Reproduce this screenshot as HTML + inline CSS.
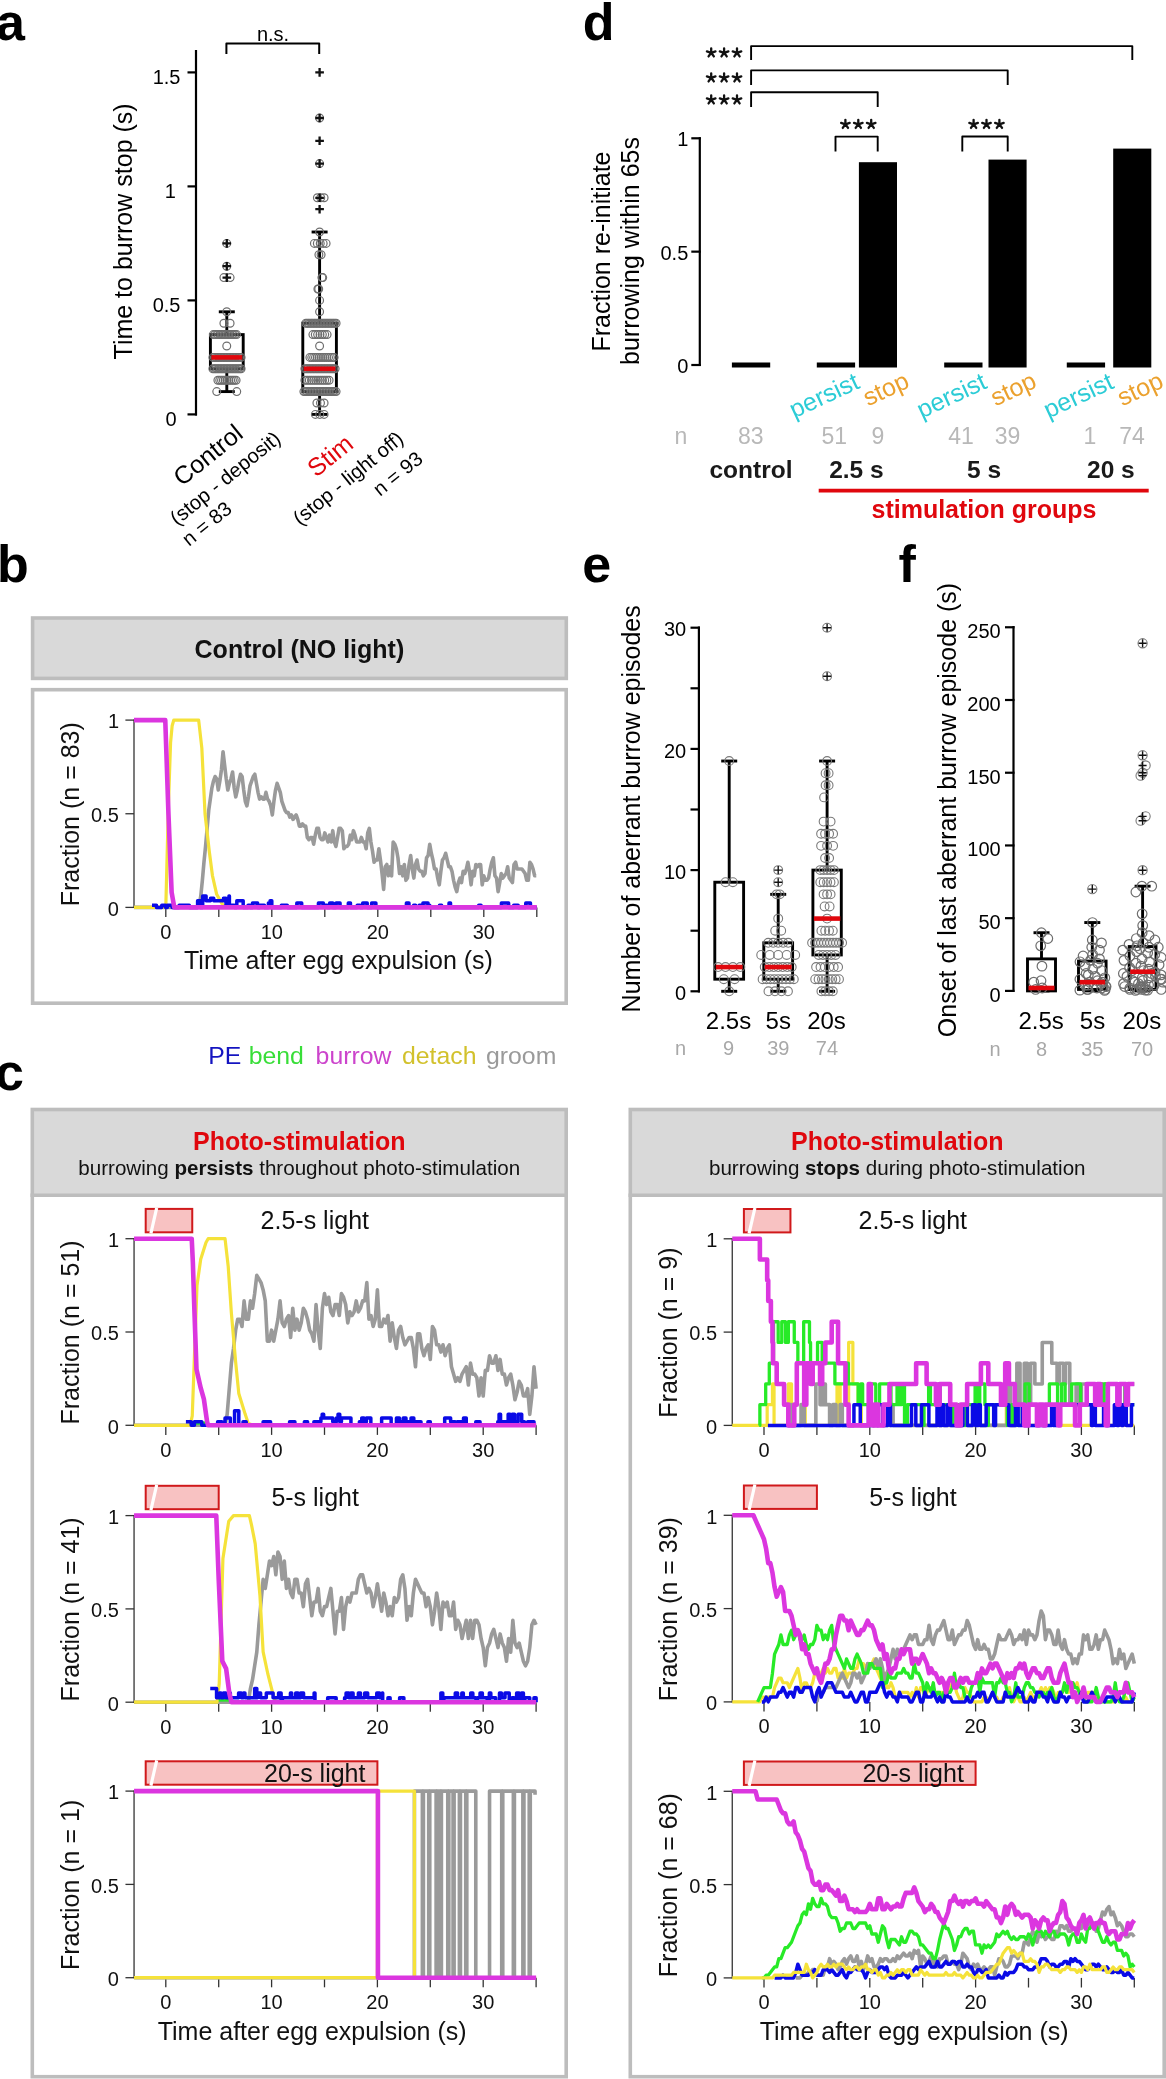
<!DOCTYPE html>
<html><head><meta charset="utf-8"><title>figure</title>
<style>html,body{margin:0;padding:0;background:#fff;}svg{display:block;will-change:transform;}</style>
</head><body>
<svg width="1166" height="2079" viewBox="0 0 1166 2079" font-family='"Liberation Sans", sans-serif'><text x="-4" y="40" font-size="52" font-weight="bold">a</text>
<text x="-3" y="582.4" font-size="52" font-weight="bold">b</text>
<text x="-5" y="1089.5" font-size="52" font-weight="bold">c</text>
<text x="582.7" y="40" font-size="52" font-weight="bold">d</text>
<text x="582.2" y="582.4" font-size="52" font-weight="bold">e</text>
<text x="898.6" y="582.2" font-size="52" font-weight="bold">f</text>
<line x1="196" y1="50" x2="196" y2="415.5" stroke="#000" stroke-width="2.2"/>
<line x1="187.5" y1="72.4" x2="197" y2="72.4" stroke="#000" stroke-width="2.2"/>
<text x="180.5" y="84" font-size="20" text-anchor="end">1.5</text>
<line x1="187.5" y1="186.4" x2="197" y2="186.4" stroke="#000" stroke-width="2.2"/>
<text x="175.8" y="198" font-size="20" text-anchor="end">1</text>
<line x1="187.5" y1="300.4" x2="197" y2="300.4" stroke="#000" stroke-width="2.2"/>
<text x="180.5" y="312" font-size="20" text-anchor="end">0.5</text>
<line x1="187.5" y1="414.4" x2="197" y2="414.4" stroke="#000" stroke-width="2.2"/>
<text x="176.5" y="426" font-size="20" text-anchor="end">0</text>
<text x="132.1" y="231.4" font-size="25" text-anchor="middle" transform="rotate(-90 132.1 231.4)">Time to burrow stop (s)</text>
<text x="273" y="40.8" font-size="20" text-anchor="middle">n.s.</text>
<path d="M226.4 54V43.6H319.2V54" fill="none" stroke="#000" stroke-width="2" stroke-linejoin="round"/>
<line x1="226.8" y1="334.6" x2="226.8" y2="311.8" stroke="#000" stroke-width="2.9"/>
<line x1="226.8" y1="368.8" x2="226.8" y2="391.6" stroke="#000" stroke-width="2.9"/>
<line x1="218.8" y1="311.8" x2="234.8" y2="311.8" stroke="#000" stroke-width="2.9"/>
<line x1="218.8" y1="391.6" x2="234.8" y2="391.6" stroke="#000" stroke-width="2.9"/>
<rect x="210.4" y="334.6" width="32.8" height="34.2" fill="none" stroke="#000" stroke-width="2.9"/>
<line x1="319.6" y1="323.2" x2="319.6" y2="232" stroke="#000" stroke-width="2.9"/>
<line x1="319.6" y1="391.6" x2="319.6" y2="414.4" stroke="#000" stroke-width="2.9"/>
<line x1="311.6" y1="232" x2="327.6" y2="232" stroke="#000" stroke-width="2.9"/>
<line x1="311.6" y1="414.4" x2="327.6" y2="414.4" stroke="#000" stroke-width="2.9"/>
<rect x="302.8" y="323.2" width="33.6" height="68.4" fill="none" stroke="#000" stroke-width="2.9"/>
<circle cx="216.75" cy="391.6" r="3.9" fill="none" stroke="#6e6e6e" stroke-width="1.2"/>
<circle cx="236.75" cy="391.6" r="3.9" fill="none" stroke="#6e6e6e" stroke-width="1.2"/>
<circle cx="217.9" cy="380.2" r="3.9" fill="none" stroke="#6e6e6e" stroke-width="1.2"/>
<circle cx="219.72" cy="380.2" r="3.9" fill="none" stroke="#6e6e6e" stroke-width="1.2"/>
<circle cx="221.54" cy="380.2" r="3.9" fill="none" stroke="#6e6e6e" stroke-width="1.2"/>
<circle cx="223.36" cy="380.2" r="3.9" fill="none" stroke="#6e6e6e" stroke-width="1.2"/>
<circle cx="225.18" cy="380.2" r="3.9" fill="none" stroke="#6e6e6e" stroke-width="1.2"/>
<circle cx="227" cy="380.2" r="3.9" fill="none" stroke="#6e6e6e" stroke-width="1.2"/>
<circle cx="228.82" cy="380.2" r="3.9" fill="none" stroke="#6e6e6e" stroke-width="1.2"/>
<circle cx="230.64" cy="380.2" r="3.9" fill="none" stroke="#6e6e6e" stroke-width="1.2"/>
<circle cx="232.46" cy="380.2" r="3.9" fill="none" stroke="#6e6e6e" stroke-width="1.2"/>
<circle cx="234.28" cy="380.2" r="3.9" fill="none" stroke="#6e6e6e" stroke-width="1.2"/>
<circle cx="236.1" cy="380.2" r="3.9" fill="none" stroke="#6e6e6e" stroke-width="1.2"/>
<circle cx="212.9" cy="368.8" r="3.9" fill="none" stroke="#6e6e6e" stroke-width="1.2"/>
<circle cx="214.38" cy="368.8" r="3.9" fill="none" stroke="#6e6e6e" stroke-width="1.2"/>
<circle cx="215.87" cy="368.8" r="3.9" fill="none" stroke="#6e6e6e" stroke-width="1.2"/>
<circle cx="217.35" cy="368.8" r="3.9" fill="none" stroke="#6e6e6e" stroke-width="1.2"/>
<circle cx="218.84" cy="368.8" r="3.9" fill="none" stroke="#6e6e6e" stroke-width="1.2"/>
<circle cx="220.32" cy="368.8" r="3.9" fill="none" stroke="#6e6e6e" stroke-width="1.2"/>
<circle cx="221.81" cy="368.8" r="3.9" fill="none" stroke="#6e6e6e" stroke-width="1.2"/>
<circle cx="223.29" cy="368.8" r="3.9" fill="none" stroke="#6e6e6e" stroke-width="1.2"/>
<circle cx="224.77" cy="368.8" r="3.9" fill="none" stroke="#6e6e6e" stroke-width="1.2"/>
<circle cx="226.26" cy="368.8" r="3.9" fill="none" stroke="#6e6e6e" stroke-width="1.2"/>
<circle cx="227.74" cy="368.8" r="3.9" fill="none" stroke="#6e6e6e" stroke-width="1.2"/>
<circle cx="229.23" cy="368.8" r="3.9" fill="none" stroke="#6e6e6e" stroke-width="1.2"/>
<circle cx="230.71" cy="368.8" r="3.9" fill="none" stroke="#6e6e6e" stroke-width="1.2"/>
<circle cx="232.19" cy="368.8" r="3.9" fill="none" stroke="#6e6e6e" stroke-width="1.2"/>
<circle cx="233.68" cy="368.8" r="3.9" fill="none" stroke="#6e6e6e" stroke-width="1.2"/>
<circle cx="235.16" cy="368.8" r="3.9" fill="none" stroke="#6e6e6e" stroke-width="1.2"/>
<circle cx="236.65" cy="368.8" r="3.9" fill="none" stroke="#6e6e6e" stroke-width="1.2"/>
<circle cx="238.13" cy="368.8" r="3.9" fill="none" stroke="#6e6e6e" stroke-width="1.2"/>
<circle cx="239.62" cy="368.8" r="3.9" fill="none" stroke="#6e6e6e" stroke-width="1.2"/>
<circle cx="241.1" cy="368.8" r="3.9" fill="none" stroke="#6e6e6e" stroke-width="1.2"/>
<circle cx="212.9" cy="357.4" r="3.9" fill="none" stroke="#6e6e6e" stroke-width="1.2"/>
<circle cx="214.38" cy="357.4" r="3.9" fill="none" stroke="#6e6e6e" stroke-width="1.2"/>
<circle cx="215.87" cy="357.4" r="3.9" fill="none" stroke="#6e6e6e" stroke-width="1.2"/>
<circle cx="217.35" cy="357.4" r="3.9" fill="none" stroke="#6e6e6e" stroke-width="1.2"/>
<circle cx="218.84" cy="357.4" r="3.9" fill="none" stroke="#6e6e6e" stroke-width="1.2"/>
<circle cx="220.32" cy="357.4" r="3.9" fill="none" stroke="#6e6e6e" stroke-width="1.2"/>
<circle cx="221.81" cy="357.4" r="3.9" fill="none" stroke="#6e6e6e" stroke-width="1.2"/>
<circle cx="223.29" cy="357.4" r="3.9" fill="none" stroke="#6e6e6e" stroke-width="1.2"/>
<circle cx="224.77" cy="357.4" r="3.9" fill="none" stroke="#6e6e6e" stroke-width="1.2"/>
<circle cx="226.26" cy="357.4" r="3.9" fill="none" stroke="#6e6e6e" stroke-width="1.2"/>
<circle cx="227.74" cy="357.4" r="3.9" fill="none" stroke="#6e6e6e" stroke-width="1.2"/>
<circle cx="229.23" cy="357.4" r="3.9" fill="none" stroke="#6e6e6e" stroke-width="1.2"/>
<circle cx="230.71" cy="357.4" r="3.9" fill="none" stroke="#6e6e6e" stroke-width="1.2"/>
<circle cx="232.19" cy="357.4" r="3.9" fill="none" stroke="#6e6e6e" stroke-width="1.2"/>
<circle cx="233.68" cy="357.4" r="3.9" fill="none" stroke="#6e6e6e" stroke-width="1.2"/>
<circle cx="235.16" cy="357.4" r="3.9" fill="none" stroke="#6e6e6e" stroke-width="1.2"/>
<circle cx="236.65" cy="357.4" r="3.9" fill="none" stroke="#6e6e6e" stroke-width="1.2"/>
<circle cx="238.13" cy="357.4" r="3.9" fill="none" stroke="#6e6e6e" stroke-width="1.2"/>
<circle cx="239.62" cy="357.4" r="3.9" fill="none" stroke="#6e6e6e" stroke-width="1.2"/>
<circle cx="241.1" cy="357.4" r="3.9" fill="none" stroke="#6e6e6e" stroke-width="1.2"/>
<circle cx="226.75" cy="346" r="3.9" fill="none" stroke="#6e6e6e" stroke-width="1.2"/>
<circle cx="213.4" cy="334.6" r="3.9" fill="none" stroke="#6e6e6e" stroke-width="1.2"/>
<circle cx="214.95" cy="334.6" r="3.9" fill="none" stroke="#6e6e6e" stroke-width="1.2"/>
<circle cx="216.49" cy="334.6" r="3.9" fill="none" stroke="#6e6e6e" stroke-width="1.2"/>
<circle cx="218.04" cy="334.6" r="3.9" fill="none" stroke="#6e6e6e" stroke-width="1.2"/>
<circle cx="219.59" cy="334.6" r="3.9" fill="none" stroke="#6e6e6e" stroke-width="1.2"/>
<circle cx="221.13" cy="334.6" r="3.9" fill="none" stroke="#6e6e6e" stroke-width="1.2"/>
<circle cx="222.68" cy="334.6" r="3.9" fill="none" stroke="#6e6e6e" stroke-width="1.2"/>
<circle cx="224.23" cy="334.6" r="3.9" fill="none" stroke="#6e6e6e" stroke-width="1.2"/>
<circle cx="225.77" cy="334.6" r="3.9" fill="none" stroke="#6e6e6e" stroke-width="1.2"/>
<circle cx="227.32" cy="334.6" r="3.9" fill="none" stroke="#6e6e6e" stroke-width="1.2"/>
<circle cx="228.87" cy="334.6" r="3.9" fill="none" stroke="#6e6e6e" stroke-width="1.2"/>
<circle cx="230.41" cy="334.6" r="3.9" fill="none" stroke="#6e6e6e" stroke-width="1.2"/>
<circle cx="231.96" cy="334.6" r="3.9" fill="none" stroke="#6e6e6e" stroke-width="1.2"/>
<circle cx="233.51" cy="334.6" r="3.9" fill="none" stroke="#6e6e6e" stroke-width="1.2"/>
<circle cx="235.05" cy="334.6" r="3.9" fill="none" stroke="#6e6e6e" stroke-width="1.2"/>
<circle cx="236.6" cy="334.6" r="3.9" fill="none" stroke="#6e6e6e" stroke-width="1.2"/>
<circle cx="223.9" cy="323.2" r="3.9" fill="none" stroke="#6e6e6e" stroke-width="1.2"/>
<circle cx="230.1" cy="323.2" r="3.9" fill="none" stroke="#6e6e6e" stroke-width="1.2"/>
<circle cx="226.75" cy="311.8" r="3.9" fill="none" stroke="#6e6e6e" stroke-width="1.2"/>
<circle cx="223.9" cy="277.6" r="3.9" fill="none" stroke="#6e6e6e" stroke-width="1.2"/>
<circle cx="230.1" cy="277.6" r="3.9" fill="none" stroke="#6e6e6e" stroke-width="1.2"/>
<circle cx="226.75" cy="266.2" r="3.9" fill="none" stroke="#6e6e6e" stroke-width="1.2"/>
<circle cx="226.75" cy="243.4" r="3.9" fill="none" stroke="#6e6e6e" stroke-width="1.2"/>
<circle cx="315.4" cy="414.4" r="3.9" fill="none" stroke="#6e6e6e" stroke-width="1.2"/>
<circle cx="319.75" cy="414.4" r="3.9" fill="none" stroke="#6e6e6e" stroke-width="1.2"/>
<circle cx="324.1" cy="414.4" r="3.9" fill="none" stroke="#6e6e6e" stroke-width="1.2"/>
<circle cx="316.9" cy="403" r="3.9" fill="none" stroke="#6e6e6e" stroke-width="1.2"/>
<circle cx="320.5" cy="403" r="3.9" fill="none" stroke="#6e6e6e" stroke-width="1.2"/>
<circle cx="324.1" cy="403" r="3.9" fill="none" stroke="#6e6e6e" stroke-width="1.2"/>
<circle cx="303.9" cy="391.6" r="3.9" fill="none" stroke="#6e6e6e" stroke-width="1.2"/>
<circle cx="305.43" cy="391.6" r="3.9" fill="none" stroke="#6e6e6e" stroke-width="1.2"/>
<circle cx="306.97" cy="391.6" r="3.9" fill="none" stroke="#6e6e6e" stroke-width="1.2"/>
<circle cx="308.5" cy="391.6" r="3.9" fill="none" stroke="#6e6e6e" stroke-width="1.2"/>
<circle cx="310.03" cy="391.6" r="3.9" fill="none" stroke="#6e6e6e" stroke-width="1.2"/>
<circle cx="311.57" cy="391.6" r="3.9" fill="none" stroke="#6e6e6e" stroke-width="1.2"/>
<circle cx="313.1" cy="391.6" r="3.9" fill="none" stroke="#6e6e6e" stroke-width="1.2"/>
<circle cx="314.63" cy="391.6" r="3.9" fill="none" stroke="#6e6e6e" stroke-width="1.2"/>
<circle cx="316.17" cy="391.6" r="3.9" fill="none" stroke="#6e6e6e" stroke-width="1.2"/>
<circle cx="317.7" cy="391.6" r="3.9" fill="none" stroke="#6e6e6e" stroke-width="1.2"/>
<circle cx="319.23" cy="391.6" r="3.9" fill="none" stroke="#6e6e6e" stroke-width="1.2"/>
<circle cx="320.77" cy="391.6" r="3.9" fill="none" stroke="#6e6e6e" stroke-width="1.2"/>
<circle cx="322.3" cy="391.6" r="3.9" fill="none" stroke="#6e6e6e" stroke-width="1.2"/>
<circle cx="323.83" cy="391.6" r="3.9" fill="none" stroke="#6e6e6e" stroke-width="1.2"/>
<circle cx="325.37" cy="391.6" r="3.9" fill="none" stroke="#6e6e6e" stroke-width="1.2"/>
<circle cx="326.9" cy="391.6" r="3.9" fill="none" stroke="#6e6e6e" stroke-width="1.2"/>
<circle cx="328.43" cy="391.6" r="3.9" fill="none" stroke="#6e6e6e" stroke-width="1.2"/>
<circle cx="329.97" cy="391.6" r="3.9" fill="none" stroke="#6e6e6e" stroke-width="1.2"/>
<circle cx="331.5" cy="391.6" r="3.9" fill="none" stroke="#6e6e6e" stroke-width="1.2"/>
<circle cx="333.03" cy="391.6" r="3.9" fill="none" stroke="#6e6e6e" stroke-width="1.2"/>
<circle cx="334.57" cy="391.6" r="3.9" fill="none" stroke="#6e6e6e" stroke-width="1.2"/>
<circle cx="336.1" cy="391.6" r="3.9" fill="none" stroke="#6e6e6e" stroke-width="1.2"/>
<circle cx="304.9" cy="380.2" r="3.9" fill="none" stroke="#6e6e6e" stroke-width="1.2"/>
<circle cx="307.1" cy="380.2" r="3.9" fill="none" stroke="#6e6e6e" stroke-width="1.2"/>
<circle cx="309.3" cy="380.2" r="3.9" fill="none" stroke="#6e6e6e" stroke-width="1.2"/>
<circle cx="311.5" cy="380.2" r="3.9" fill="none" stroke="#6e6e6e" stroke-width="1.2"/>
<circle cx="313.7" cy="380.2" r="3.9" fill="none" stroke="#6e6e6e" stroke-width="1.2"/>
<circle cx="315.9" cy="380.2" r="3.9" fill="none" stroke="#6e6e6e" stroke-width="1.2"/>
<circle cx="318.1" cy="380.2" r="3.9" fill="none" stroke="#6e6e6e" stroke-width="1.2"/>
<circle cx="320.3" cy="380.2" r="3.9" fill="none" stroke="#6e6e6e" stroke-width="1.2"/>
<circle cx="322.5" cy="380.2" r="3.9" fill="none" stroke="#6e6e6e" stroke-width="1.2"/>
<circle cx="324.7" cy="380.2" r="3.9" fill="none" stroke="#6e6e6e" stroke-width="1.2"/>
<circle cx="326.9" cy="380.2" r="3.9" fill="none" stroke="#6e6e6e" stroke-width="1.2"/>
<circle cx="329.1" cy="380.2" r="3.9" fill="none" stroke="#6e6e6e" stroke-width="1.2"/>
<circle cx="304.9" cy="368.8" r="3.9" fill="none" stroke="#6e6e6e" stroke-width="1.2"/>
<circle cx="306.41" cy="368.8" r="3.9" fill="none" stroke="#6e6e6e" stroke-width="1.2"/>
<circle cx="307.92" cy="368.8" r="3.9" fill="none" stroke="#6e6e6e" stroke-width="1.2"/>
<circle cx="309.43" cy="368.8" r="3.9" fill="none" stroke="#6e6e6e" stroke-width="1.2"/>
<circle cx="310.94" cy="368.8" r="3.9" fill="none" stroke="#6e6e6e" stroke-width="1.2"/>
<circle cx="312.45" cy="368.8" r="3.9" fill="none" stroke="#6e6e6e" stroke-width="1.2"/>
<circle cx="313.96" cy="368.8" r="3.9" fill="none" stroke="#6e6e6e" stroke-width="1.2"/>
<circle cx="315.47" cy="368.8" r="3.9" fill="none" stroke="#6e6e6e" stroke-width="1.2"/>
<circle cx="316.98" cy="368.8" r="3.9" fill="none" stroke="#6e6e6e" stroke-width="1.2"/>
<circle cx="318.49" cy="368.8" r="3.9" fill="none" stroke="#6e6e6e" stroke-width="1.2"/>
<circle cx="320" cy="368.8" r="3.9" fill="none" stroke="#6e6e6e" stroke-width="1.2"/>
<circle cx="321.51" cy="368.8" r="3.9" fill="none" stroke="#6e6e6e" stroke-width="1.2"/>
<circle cx="323.02" cy="368.8" r="3.9" fill="none" stroke="#6e6e6e" stroke-width="1.2"/>
<circle cx="324.53" cy="368.8" r="3.9" fill="none" stroke="#6e6e6e" stroke-width="1.2"/>
<circle cx="326.04" cy="368.8" r="3.9" fill="none" stroke="#6e6e6e" stroke-width="1.2"/>
<circle cx="327.55" cy="368.8" r="3.9" fill="none" stroke="#6e6e6e" stroke-width="1.2"/>
<circle cx="329.06" cy="368.8" r="3.9" fill="none" stroke="#6e6e6e" stroke-width="1.2"/>
<circle cx="330.57" cy="368.8" r="3.9" fill="none" stroke="#6e6e6e" stroke-width="1.2"/>
<circle cx="332.08" cy="368.8" r="3.9" fill="none" stroke="#6e6e6e" stroke-width="1.2"/>
<circle cx="333.59" cy="368.8" r="3.9" fill="none" stroke="#6e6e6e" stroke-width="1.2"/>
<circle cx="335.1" cy="368.8" r="3.9" fill="none" stroke="#6e6e6e" stroke-width="1.2"/>
<circle cx="309.9" cy="357.4" r="3.9" fill="none" stroke="#6e6e6e" stroke-width="1.2"/>
<circle cx="311.76" cy="357.4" r="3.9" fill="none" stroke="#6e6e6e" stroke-width="1.2"/>
<circle cx="313.62" cy="357.4" r="3.9" fill="none" stroke="#6e6e6e" stroke-width="1.2"/>
<circle cx="315.48" cy="357.4" r="3.9" fill="none" stroke="#6e6e6e" stroke-width="1.2"/>
<circle cx="317.35" cy="357.4" r="3.9" fill="none" stroke="#6e6e6e" stroke-width="1.2"/>
<circle cx="319.21" cy="357.4" r="3.9" fill="none" stroke="#6e6e6e" stroke-width="1.2"/>
<circle cx="321.07" cy="357.4" r="3.9" fill="none" stroke="#6e6e6e" stroke-width="1.2"/>
<circle cx="322.93" cy="357.4" r="3.9" fill="none" stroke="#6e6e6e" stroke-width="1.2"/>
<circle cx="324.79" cy="357.4" r="3.9" fill="none" stroke="#6e6e6e" stroke-width="1.2"/>
<circle cx="326.65" cy="357.4" r="3.9" fill="none" stroke="#6e6e6e" stroke-width="1.2"/>
<circle cx="328.52" cy="357.4" r="3.9" fill="none" stroke="#6e6e6e" stroke-width="1.2"/>
<circle cx="330.38" cy="357.4" r="3.9" fill="none" stroke="#6e6e6e" stroke-width="1.2"/>
<circle cx="332.24" cy="357.4" r="3.9" fill="none" stroke="#6e6e6e" stroke-width="1.2"/>
<circle cx="334.1" cy="357.4" r="3.9" fill="none" stroke="#6e6e6e" stroke-width="1.2"/>
<circle cx="319.6" cy="346" r="3.9" fill="none" stroke="#6e6e6e" stroke-width="1.2"/>
<circle cx="312.9" cy="334.6" r="3.9" fill="none" stroke="#6e6e6e" stroke-width="1.2"/>
<circle cx="315.27" cy="334.6" r="3.9" fill="none" stroke="#6e6e6e" stroke-width="1.2"/>
<circle cx="317.63" cy="334.6" r="3.9" fill="none" stroke="#6e6e6e" stroke-width="1.2"/>
<circle cx="320" cy="334.6" r="3.9" fill="none" stroke="#6e6e6e" stroke-width="1.2"/>
<circle cx="322.37" cy="334.6" r="3.9" fill="none" stroke="#6e6e6e" stroke-width="1.2"/>
<circle cx="324.73" cy="334.6" r="3.9" fill="none" stroke="#6e6e6e" stroke-width="1.2"/>
<circle cx="327.1" cy="334.6" r="3.9" fill="none" stroke="#6e6e6e" stroke-width="1.2"/>
<circle cx="305.9" cy="323.2" r="3.9" fill="none" stroke="#6e6e6e" stroke-width="1.2"/>
<circle cx="307.41" cy="323.2" r="3.9" fill="none" stroke="#6e6e6e" stroke-width="1.2"/>
<circle cx="308.92" cy="323.2" r="3.9" fill="none" stroke="#6e6e6e" stroke-width="1.2"/>
<circle cx="310.43" cy="323.2" r="3.9" fill="none" stroke="#6e6e6e" stroke-width="1.2"/>
<circle cx="311.94" cy="323.2" r="3.9" fill="none" stroke="#6e6e6e" stroke-width="1.2"/>
<circle cx="313.45" cy="323.2" r="3.9" fill="none" stroke="#6e6e6e" stroke-width="1.2"/>
<circle cx="314.96" cy="323.2" r="3.9" fill="none" stroke="#6e6e6e" stroke-width="1.2"/>
<circle cx="316.47" cy="323.2" r="3.9" fill="none" stroke="#6e6e6e" stroke-width="1.2"/>
<circle cx="317.98" cy="323.2" r="3.9" fill="none" stroke="#6e6e6e" stroke-width="1.2"/>
<circle cx="319.49" cy="323.2" r="3.9" fill="none" stroke="#6e6e6e" stroke-width="1.2"/>
<circle cx="321" cy="323.2" r="3.9" fill="none" stroke="#6e6e6e" stroke-width="1.2"/>
<circle cx="322.51" cy="323.2" r="3.9" fill="none" stroke="#6e6e6e" stroke-width="1.2"/>
<circle cx="324.02" cy="323.2" r="3.9" fill="none" stroke="#6e6e6e" stroke-width="1.2"/>
<circle cx="325.53" cy="323.2" r="3.9" fill="none" stroke="#6e6e6e" stroke-width="1.2"/>
<circle cx="327.04" cy="323.2" r="3.9" fill="none" stroke="#6e6e6e" stroke-width="1.2"/>
<circle cx="328.55" cy="323.2" r="3.9" fill="none" stroke="#6e6e6e" stroke-width="1.2"/>
<circle cx="330.06" cy="323.2" r="3.9" fill="none" stroke="#6e6e6e" stroke-width="1.2"/>
<circle cx="331.57" cy="323.2" r="3.9" fill="none" stroke="#6e6e6e" stroke-width="1.2"/>
<circle cx="333.08" cy="323.2" r="3.9" fill="none" stroke="#6e6e6e" stroke-width="1.2"/>
<circle cx="334.59" cy="323.2" r="3.9" fill="none" stroke="#6e6e6e" stroke-width="1.2"/>
<circle cx="336.1" cy="323.2" r="3.9" fill="none" stroke="#6e6e6e" stroke-width="1.2"/>
<circle cx="319.6" cy="311.8" r="3.9" fill="none" stroke="#6e6e6e" stroke-width="1.2"/>
<circle cx="319.6" cy="300.4" r="3.9" fill="none" stroke="#6e6e6e" stroke-width="1.2"/>
<circle cx="317.9" cy="289" r="3.9" fill="none" stroke="#6e6e6e" stroke-width="1.2"/>
<circle cx="318.7" cy="289" r="3.9" fill="none" stroke="#6e6e6e" stroke-width="1.2"/>
<circle cx="321.9" cy="277.6" r="3.9" fill="none" stroke="#6e6e6e" stroke-width="1.2"/>
<circle cx="322.7" cy="277.6" r="3.9" fill="none" stroke="#6e6e6e" stroke-width="1.2"/>
<circle cx="318.9" cy="254.8" r="3.9" fill="none" stroke="#6e6e6e" stroke-width="1.2"/>
<circle cx="321.1" cy="254.8" r="3.9" fill="none" stroke="#6e6e6e" stroke-width="1.2"/>
<circle cx="314.4" cy="243.4" r="3.9" fill="none" stroke="#6e6e6e" stroke-width="1.2"/>
<circle cx="317.32" cy="243.4" r="3.9" fill="none" stroke="#6e6e6e" stroke-width="1.2"/>
<circle cx="320.25" cy="243.4" r="3.9" fill="none" stroke="#6e6e6e" stroke-width="1.2"/>
<circle cx="323.17" cy="243.4" r="3.9" fill="none" stroke="#6e6e6e" stroke-width="1.2"/>
<circle cx="326.1" cy="243.4" r="3.9" fill="none" stroke="#6e6e6e" stroke-width="1.2"/>
<circle cx="319.6" cy="232" r="3.9" fill="none" stroke="#6e6e6e" stroke-width="1.2"/>
<circle cx="317.4" cy="197.8" r="3.9" fill="none" stroke="#6e6e6e" stroke-width="1.2"/>
<circle cx="320.75" cy="197.8" r="3.9" fill="none" stroke="#6e6e6e" stroke-width="1.2"/>
<circle cx="324.1" cy="197.8" r="3.9" fill="none" stroke="#6e6e6e" stroke-width="1.2"/>
<circle cx="319.6" cy="163.6" r="3.9" fill="none" stroke="#6e6e6e" stroke-width="1.2"/>
<circle cx="319.6" cy="118" r="3.9" fill="none" stroke="#6e6e6e" stroke-width="1.2"/>
<line x1="211.4" y1="357.4" x2="242.2" y2="357.4" stroke="#e0070d" stroke-width="4.6"/>
<line x1="303.8" y1="368.8" x2="335.4" y2="368.8" stroke="#e0070d" stroke-width="4.6"/>
<path d="M222.5 243.4H231.1M226.8 239.1V247.7" stroke="#111" stroke-width="2.3"/>
<path d="M222.5 266.2H231.1M226.8 261.9V270.5" stroke="#111" stroke-width="2.3"/>
<path d="M222.5 277.6H231.1M226.8 273.3V281.9" stroke="#111" stroke-width="2.3"/>
<path d="M315.3 72.4H323.9M319.6 68.1V76.7" stroke="#111" stroke-width="2.3"/>
<path d="M315.3 118H323.9M319.6 113.7V122.3" stroke="#111" stroke-width="2.3"/>
<path d="M315.3 140.8H323.9M319.6 136.5V145.1" stroke="#111" stroke-width="2.3"/>
<path d="M315.3 163.6H323.9M319.6 159.3V167.9" stroke="#111" stroke-width="2.3"/>
<path d="M315.3 197.8H323.9M319.6 193.5V202.1" stroke="#111" stroke-width="2.3"/>
<path d="M315.3 209.2H323.9M319.6 204.9V213.5" stroke="#111" stroke-width="2.3"/>
<text x="182" y="487" font-size="25" transform="rotate(-39 182 487)">Control</text>
<text x="177" y="526" font-size="20.3" transform="rotate(-39 177 526)">(stop - deposit)</text>
<text x="189" y="547" font-size="20.3" transform="rotate(-39 189 547)">n = 83</text>
<text x="316" y="478" font-size="25" fill="#e0070d" transform="rotate(-39 316 478)">Stim</text>
<text x="300" y="526" font-size="20.3" transform="rotate(-39 300 526)">(stop - light off)</text>
<text x="380" y="497" font-size="20.3" transform="rotate(-39 380 497)">n = 93</text>
<line x1="699.8" y1="137.2" x2="699.8" y2="366" stroke="#000" stroke-width="2.2"/>
<line x1="691.3" y1="138.3" x2="700.8" y2="138.3" stroke="#000" stroke-width="2.2"/>
<text x="688.3" y="146.3" font-size="20" text-anchor="end">1</text>
<line x1="691.3" y1="251.65" x2="700.8" y2="251.65" stroke="#000" stroke-width="2.2"/>
<text x="688.3" y="259.65" font-size="20" text-anchor="end">0.5</text>
<line x1="691.3" y1="365" x2="700.8" y2="365" stroke="#000" stroke-width="2.2"/>
<text x="688.3" y="373" font-size="20" text-anchor="end">0</text>
<text x="609.8" y="251.5" font-size="25" text-anchor="middle" transform="rotate(-90 609.8 251.5)">Fraction re-initiate</text>
<text x="638.6" y="251" font-size="25" text-anchor="middle" transform="rotate(-90 638.6 251)">burrowing within 65s</text>
<rect x="731.9" y="362.5" width="38.3" height="5" fill="#000"/>
<rect x="816.8" y="362.5" width="38.3" height="5" fill="#000"/>
<rect x="858.9" y="162.2" width="38.1" height="205.3" fill="#000"/>
<rect x="944.2" y="362.5" width="38.3" height="5" fill="#000"/>
<rect x="988.5" y="159.6" width="38.1" height="207.9" fill="#000"/>
<rect x="1066.78" y="362.5" width="38.3" height="5" fill="#000"/>
<rect x="1113.2" y="148.6" width="38.1" height="218.9" fill="#000"/>
<path d="M751.1 60V46.1H1132.3V60" fill="none" stroke="#000" stroke-width="1.9" stroke-linejoin="round"/>
<path d="M751.1 85V70.4H1007.7V85" fill="none" stroke="#000" stroke-width="1.9" stroke-linejoin="round"/>
<path d="M751.1 107V92.2H877.7V107" fill="none" stroke="#000" stroke-width="1.9" stroke-linejoin="round"/>
<path d="M835.5 151.5V136.6H877.7V151.5" fill="none" stroke="#000" stroke-width="1.9" stroke-linejoin="round"/>
<path d="M962.3 151.5V136.5H1007.7V151.5" fill="none" stroke="#000" stroke-width="1.9" stroke-linejoin="round"/>
<path d="M711.2 52.8L711.2 48.3M711.2 52.8L715.48 51.41M711.2 52.8L713.85 56.44M711.2 52.8L708.55 56.44M711.2 52.8L706.92 51.41" stroke="#111" stroke-width="2.3" stroke-linecap="round"/>
<path d="M724.1 52.8L724.1 48.3M724.1 52.8L728.38 51.41M724.1 52.8L726.75 56.44M724.1 52.8L721.45 56.44M724.1 52.8L719.82 51.41" stroke="#111" stroke-width="2.3" stroke-linecap="round"/>
<path d="M737 52.8L737 48.3M737 52.8L741.28 51.41M737 52.8L739.65 56.44M737 52.8L734.35 56.44M737 52.8L732.72 51.41" stroke="#111" stroke-width="2.3" stroke-linecap="round"/>
<path d="M711.2 77.8L711.2 73.3M711.2 77.8L715.48 76.41M711.2 77.8L713.85 81.44M711.2 77.8L708.55 81.44M711.2 77.8L706.92 76.41" stroke="#111" stroke-width="2.3" stroke-linecap="round"/>
<path d="M724.1 77.8L724.1 73.3M724.1 77.8L728.38 76.41M724.1 77.8L726.75 81.44M724.1 77.8L721.45 81.44M724.1 77.8L719.82 76.41" stroke="#111" stroke-width="2.3" stroke-linecap="round"/>
<path d="M737 77.8L737 73.3M737 77.8L741.28 76.41M737 77.8L739.65 81.44M737 77.8L734.35 81.44M737 77.8L732.72 76.41" stroke="#111" stroke-width="2.3" stroke-linecap="round"/>
<path d="M711.2 99.8L711.2 95.3M711.2 99.8L715.48 98.41M711.2 99.8L713.85 103.44M711.2 99.8L708.55 103.44M711.2 99.8L706.92 98.41" stroke="#111" stroke-width="2.3" stroke-linecap="round"/>
<path d="M724.1 99.8L724.1 95.3M724.1 99.8L728.38 98.41M724.1 99.8L726.75 103.44M724.1 99.8L721.45 103.44M724.1 99.8L719.82 98.41" stroke="#111" stroke-width="2.3" stroke-linecap="round"/>
<path d="M737 99.8L737 95.3M737 99.8L741.28 98.41M737 99.8L739.65 103.44M737 99.8L734.35 103.44M737 99.8L732.72 98.41" stroke="#111" stroke-width="2.3" stroke-linecap="round"/>
<path d="M845.4 124.3L845.4 119.8M845.4 124.3L849.68 122.91M845.4 124.3L848.05 127.94M845.4 124.3L842.75 127.94M845.4 124.3L841.12 122.91" stroke="#111" stroke-width="2.3" stroke-linecap="round"/>
<path d="M858.3 124.3L858.3 119.8M858.3 124.3L862.58 122.91M858.3 124.3L860.95 127.94M858.3 124.3L855.65 127.94M858.3 124.3L854.02 122.91" stroke="#111" stroke-width="2.3" stroke-linecap="round"/>
<path d="M871.2 124.3L871.2 119.8M871.2 124.3L875.48 122.91M871.2 124.3L873.85 127.94M871.2 124.3L868.55 127.94M871.2 124.3L866.92 122.91" stroke="#111" stroke-width="2.3" stroke-linecap="round"/>
<path d="M973.6 124.3L973.6 119.8M973.6 124.3L977.88 122.91M973.6 124.3L976.25 127.94M973.6 124.3L970.95 127.94M973.6 124.3L969.32 122.91" stroke="#111" stroke-width="2.3" stroke-linecap="round"/>
<path d="M986.5 124.3L986.5 119.8M986.5 124.3L990.78 122.91M986.5 124.3L989.15 127.94M986.5 124.3L983.85 127.94M986.5 124.3L982.22 122.91" stroke="#111" stroke-width="2.3" stroke-linecap="round"/>
<path d="M999.4 124.3L999.4 119.8M999.4 124.3L1003.68 122.91M999.4 124.3L1002.05 127.94M999.4 124.3L996.75 127.94M999.4 124.3L995.12 122.91" stroke="#111" stroke-width="2.3" stroke-linecap="round"/>
<text x="861" y="387.5" font-size="25" text-anchor="end" fill="#2cccd6" transform="rotate(-25 861 387.5)">persist</text>
<text x="868" y="406.5" font-size="25" fill="#eba12e" transform="rotate(-25 868 406.5)">stop</text>
<text x="988.4" y="387.5" font-size="25" text-anchor="end" fill="#2cccd6" transform="rotate(-25 988.4 387.5)">persist</text>
<text x="995.4" y="406.5" font-size="25" fill="#eba12e" transform="rotate(-25 995.4 406.5)">stop</text>
<text x="1115.2" y="387.5" font-size="25" text-anchor="end" fill="#2cccd6" transform="rotate(-25 1115.2 387.5)">persist</text>
<text x="1122.2" y="406.5" font-size="25" fill="#eba12e" transform="rotate(-25 1122.2 406.5)">stop</text>
<text x="674.4" y="443.8" font-size="23" fill="#b8b8b8">n</text>
<text x="750.8" y="443.8" font-size="23" text-anchor="middle" fill="#b8b8b8">83</text>
<text x="834.3" y="443.8" font-size="23" text-anchor="middle" fill="#b8b8b8">51</text>
<text x="878" y="443.8" font-size="23" text-anchor="middle" fill="#b8b8b8">9</text>
<text x="961" y="443.8" font-size="23" text-anchor="middle" fill="#b8b8b8">41</text>
<text x="1007.6" y="443.8" font-size="23" text-anchor="middle" fill="#b8b8b8">39</text>
<text x="1090" y="443.8" font-size="23" text-anchor="middle" fill="#b8b8b8">1</text>
<text x="1132" y="443.8" font-size="23" text-anchor="middle" fill="#b8b8b8">74</text>
<text x="751" y="478" font-size="24.5" text-anchor="middle" font-weight="bold" fill="#1a1a1a">control</text>
<text x="856.4" y="478" font-size="24.5" text-anchor="middle" font-weight="bold" fill="#1a1a1a">2.5 s</text>
<text x="984" y="478" font-size="24.5" text-anchor="middle" font-weight="bold" fill="#1a1a1a">5 s</text>
<text x="1110.9" y="478" font-size="24.5" text-anchor="middle" font-weight="bold" fill="#1a1a1a">20 s</text>
<line x1="818.7" y1="490.6" x2="1148.7" y2="490.6" stroke="#e0070d" stroke-width="3.8"/>
<text x="984" y="518.2" font-size="25" text-anchor="middle" font-weight="bold" fill="#e0070d">stimulation groups</text>
<line x1="698.9" y1="626.6" x2="698.9" y2="992.4" stroke="#000" stroke-width="2.2"/>
<line x1="690.5" y1="991.3" x2="699.9" y2="991.3" stroke="#000" stroke-width="2.2"/>
<text x="686.2" y="999.9" font-size="20" text-anchor="end">0</text>
<line x1="690.5" y1="930.7" x2="699.9" y2="930.7" stroke="#000" stroke-width="2.2"/>
<line x1="690.5" y1="870.1" x2="699.9" y2="870.1" stroke="#000" stroke-width="2.2"/>
<text x="686.2" y="878.7" font-size="20" text-anchor="end">10</text>
<line x1="690.5" y1="809.5" x2="699.9" y2="809.5" stroke="#000" stroke-width="2.2"/>
<line x1="690.5" y1="748.9" x2="699.9" y2="748.9" stroke="#000" stroke-width="2.2"/>
<text x="686.2" y="757.5" font-size="20" text-anchor="end">20</text>
<line x1="690.5" y1="688.3" x2="699.9" y2="688.3" stroke="#000" stroke-width="2.2"/>
<line x1="690.5" y1="627.7" x2="699.9" y2="627.7" stroke="#000" stroke-width="2.2"/>
<text x="686.2" y="636.3" font-size="20" text-anchor="end">30</text>
<text x="640" y="808.8" font-size="25" text-anchor="middle" transform="rotate(-90 640 808.8)">Number of aberrant burrow episodes</text>
<line x1="729.2" y1="882.22" x2="729.2" y2="761.02" stroke="#000" stroke-width="2.9"/>
<line x1="729.2" y1="979.18" x2="729.2" y2="991.3" stroke="#000" stroke-width="2.9"/>
<line x1="721.2" y1="761.02" x2="737.2" y2="761.02" stroke="#000" stroke-width="2.9"/>
<line x1="721.2" y1="991.3" x2="737.2" y2="991.3" stroke="#000" stroke-width="2.9"/>
<rect x="714.8" y="882.22" width="28.8" height="96.96" fill="none" stroke="#000" stroke-width="2.9"/>
<circle cx="729.2" cy="991.3" r="4.4" fill="none" stroke="#7a7a7a" stroke-width="1.1"/>
<circle cx="723.8" cy="979.18" r="4.4" fill="none" stroke="#7a7a7a" stroke-width="1.1"/>
<circle cx="734.6" cy="979.18" r="4.4" fill="none" stroke="#7a7a7a" stroke-width="1.1"/>
<circle cx="718.1" cy="967.06" r="4.4" fill="none" stroke="#7a7a7a" stroke-width="1.1"/>
<circle cx="725.5" cy="967.06" r="4.4" fill="none" stroke="#7a7a7a" stroke-width="1.1"/>
<circle cx="732.9" cy="967.06" r="4.4" fill="none" stroke="#7a7a7a" stroke-width="1.1"/>
<circle cx="740.3" cy="967.06" r="4.4" fill="none" stroke="#7a7a7a" stroke-width="1.1"/>
<circle cx="725.55" cy="882.22" r="4.4" fill="none" stroke="#7a7a7a" stroke-width="1.1"/>
<circle cx="732.85" cy="882.22" r="4.4" fill="none" stroke="#7a7a7a" stroke-width="1.1"/>
<circle cx="729.2" cy="761.02" r="4.4" fill="none" stroke="#7a7a7a" stroke-width="1.1"/>
<line x1="778.2" y1="942.82" x2="778.2" y2="894.34" stroke="#000" stroke-width="2.9"/>
<line x1="778.2" y1="979.18" x2="778.2" y2="991.3" stroke="#000" stroke-width="2.9"/>
<line x1="770.2" y1="894.34" x2="786.2" y2="894.34" stroke="#000" stroke-width="2.9"/>
<line x1="770.2" y1="991.3" x2="786.2" y2="991.3" stroke="#000" stroke-width="2.9"/>
<rect x="763.8" y="942.82" width="28.8" height="36.36" fill="none" stroke="#000" stroke-width="2.9"/>
<circle cx="768.45" cy="991.3" r="4.4" fill="none" stroke="#7a7a7a" stroke-width="1.1"/>
<circle cx="774.95" cy="991.3" r="4.4" fill="none" stroke="#7a7a7a" stroke-width="1.1"/>
<circle cx="781.45" cy="991.3" r="4.4" fill="none" stroke="#7a7a7a" stroke-width="1.1"/>
<circle cx="787.95" cy="991.3" r="4.4" fill="none" stroke="#7a7a7a" stroke-width="1.1"/>
<circle cx="762.6" cy="979.18" r="4.4" fill="none" stroke="#7a7a7a" stroke-width="1.1"/>
<circle cx="766.5" cy="979.18" r="4.4" fill="none" stroke="#7a7a7a" stroke-width="1.1"/>
<circle cx="770.4" cy="979.18" r="4.4" fill="none" stroke="#7a7a7a" stroke-width="1.1"/>
<circle cx="774.3" cy="979.18" r="4.4" fill="none" stroke="#7a7a7a" stroke-width="1.1"/>
<circle cx="778.2" cy="979.18" r="4.4" fill="none" stroke="#7a7a7a" stroke-width="1.1"/>
<circle cx="782.1" cy="979.18" r="4.4" fill="none" stroke="#7a7a7a" stroke-width="1.1"/>
<circle cx="786" cy="979.18" r="4.4" fill="none" stroke="#7a7a7a" stroke-width="1.1"/>
<circle cx="789.9" cy="979.18" r="4.4" fill="none" stroke="#7a7a7a" stroke-width="1.1"/>
<circle cx="793.8" cy="979.18" r="4.4" fill="none" stroke="#7a7a7a" stroke-width="1.1"/>
<circle cx="764.7" cy="967.06" r="4.4" fill="none" stroke="#7a7a7a" stroke-width="1.1"/>
<circle cx="769.2" cy="967.06" r="4.4" fill="none" stroke="#7a7a7a" stroke-width="1.1"/>
<circle cx="773.7" cy="967.06" r="4.4" fill="none" stroke="#7a7a7a" stroke-width="1.1"/>
<circle cx="778.2" cy="967.06" r="4.4" fill="none" stroke="#7a7a7a" stroke-width="1.1"/>
<circle cx="782.7" cy="967.06" r="4.4" fill="none" stroke="#7a7a7a" stroke-width="1.1"/>
<circle cx="787.2" cy="967.06" r="4.4" fill="none" stroke="#7a7a7a" stroke-width="1.1"/>
<circle cx="791.7" cy="967.06" r="4.4" fill="none" stroke="#7a7a7a" stroke-width="1.1"/>
<circle cx="761.2" cy="954.94" r="4.4" fill="none" stroke="#7a7a7a" stroke-width="1.1"/>
<circle cx="769.7" cy="954.94" r="4.4" fill="none" stroke="#7a7a7a" stroke-width="1.1"/>
<circle cx="778.2" cy="954.94" r="4.4" fill="none" stroke="#7a7a7a" stroke-width="1.1"/>
<circle cx="786.7" cy="954.94" r="4.4" fill="none" stroke="#7a7a7a" stroke-width="1.1"/>
<circle cx="795.2" cy="954.94" r="4.4" fill="none" stroke="#7a7a7a" stroke-width="1.1"/>
<circle cx="768.2" cy="942.82" r="4.4" fill="none" stroke="#7a7a7a" stroke-width="1.1"/>
<circle cx="773.2" cy="942.82" r="4.4" fill="none" stroke="#7a7a7a" stroke-width="1.1"/>
<circle cx="778.2" cy="942.82" r="4.4" fill="none" stroke="#7a7a7a" stroke-width="1.1"/>
<circle cx="783.2" cy="942.82" r="4.4" fill="none" stroke="#7a7a7a" stroke-width="1.1"/>
<circle cx="788.2" cy="942.82" r="4.4" fill="none" stroke="#7a7a7a" stroke-width="1.1"/>
<circle cx="775.2" cy="930.7" r="4.4" fill="none" stroke="#7a7a7a" stroke-width="1.1"/>
<circle cx="781.2" cy="930.7" r="4.4" fill="none" stroke="#7a7a7a" stroke-width="1.1"/>
<circle cx="778.2" cy="918.58" r="4.4" fill="none" stroke="#7a7a7a" stroke-width="1.1"/>
<circle cx="776.7" cy="894.34" r="4.4" fill="none" stroke="#7a7a7a" stroke-width="1.1"/>
<circle cx="779.7" cy="894.34" r="4.4" fill="none" stroke="#7a7a7a" stroke-width="1.1"/>
<circle cx="778.2" cy="882.22" r="4.4" fill="none" stroke="#7a7a7a" stroke-width="1.1"/>
<circle cx="778.2" cy="870.1" r="4.4" fill="none" stroke="#7a7a7a" stroke-width="1.1"/>
<path d="M774.2 882.22H782.2M778.2 878.22V886.22" stroke="#111" stroke-width="1.4"/>
<path d="M774.2 870.1H782.2M778.2 866.1V874.1" stroke="#111" stroke-width="1.4"/>
<line x1="827.1" y1="870.1" x2="827.1" y2="761.02" stroke="#000" stroke-width="2.9"/>
<line x1="827.1" y1="954.94" x2="827.1" y2="991.3" stroke="#000" stroke-width="2.9"/>
<line x1="819.1" y1="761.02" x2="835.1" y2="761.02" stroke="#000" stroke-width="2.9"/>
<line x1="819.1" y1="991.3" x2="835.1" y2="991.3" stroke="#000" stroke-width="2.9"/>
<rect x="812.9" y="870.1" width="28.4" height="84.84" fill="none" stroke="#000" stroke-width="2.9"/>
<circle cx="821.4" cy="991.3" r="4.4" fill="none" stroke="#7a7a7a" stroke-width="1.1"/>
<circle cx="825.2" cy="991.3" r="4.4" fill="none" stroke="#7a7a7a" stroke-width="1.1"/>
<circle cx="829" cy="991.3" r="4.4" fill="none" stroke="#7a7a7a" stroke-width="1.1"/>
<circle cx="832.8" cy="991.3" r="4.4" fill="none" stroke="#7a7a7a" stroke-width="1.1"/>
<circle cx="815.2" cy="979.18" r="4.4" fill="none" stroke="#7a7a7a" stroke-width="1.1"/>
<circle cx="818.6" cy="979.18" r="4.4" fill="none" stroke="#7a7a7a" stroke-width="1.1"/>
<circle cx="822" cy="979.18" r="4.4" fill="none" stroke="#7a7a7a" stroke-width="1.1"/>
<circle cx="825.4" cy="979.18" r="4.4" fill="none" stroke="#7a7a7a" stroke-width="1.1"/>
<circle cx="828.8" cy="979.18" r="4.4" fill="none" stroke="#7a7a7a" stroke-width="1.1"/>
<circle cx="832.2" cy="979.18" r="4.4" fill="none" stroke="#7a7a7a" stroke-width="1.1"/>
<circle cx="835.6" cy="979.18" r="4.4" fill="none" stroke="#7a7a7a" stroke-width="1.1"/>
<circle cx="839" cy="979.18" r="4.4" fill="none" stroke="#7a7a7a" stroke-width="1.1"/>
<circle cx="816.1" cy="967.06" r="4.4" fill="none" stroke="#7a7a7a" stroke-width="1.1"/>
<circle cx="820.5" cy="967.06" r="4.4" fill="none" stroke="#7a7a7a" stroke-width="1.1"/>
<circle cx="824.9" cy="967.06" r="4.4" fill="none" stroke="#7a7a7a" stroke-width="1.1"/>
<circle cx="829.3" cy="967.06" r="4.4" fill="none" stroke="#7a7a7a" stroke-width="1.1"/>
<circle cx="833.7" cy="967.06" r="4.4" fill="none" stroke="#7a7a7a" stroke-width="1.1"/>
<circle cx="838.1" cy="967.06" r="4.4" fill="none" stroke="#7a7a7a" stroke-width="1.1"/>
<circle cx="818.7" cy="954.94" r="4.4" fill="none" stroke="#7a7a7a" stroke-width="1.1"/>
<circle cx="822.9" cy="954.94" r="4.4" fill="none" stroke="#7a7a7a" stroke-width="1.1"/>
<circle cx="827.1" cy="954.94" r="4.4" fill="none" stroke="#7a7a7a" stroke-width="1.1"/>
<circle cx="831.3" cy="954.94" r="4.4" fill="none" stroke="#7a7a7a" stroke-width="1.1"/>
<circle cx="835.5" cy="954.94" r="4.4" fill="none" stroke="#7a7a7a" stroke-width="1.1"/>
<circle cx="812.1" cy="942.82" r="4.4" fill="none" stroke="#7a7a7a" stroke-width="1.1"/>
<circle cx="815.1" cy="942.82" r="4.4" fill="none" stroke="#7a7a7a" stroke-width="1.1"/>
<circle cx="818.1" cy="942.82" r="4.4" fill="none" stroke="#7a7a7a" stroke-width="1.1"/>
<circle cx="821.1" cy="942.82" r="4.4" fill="none" stroke="#7a7a7a" stroke-width="1.1"/>
<circle cx="824.1" cy="942.82" r="4.4" fill="none" stroke="#7a7a7a" stroke-width="1.1"/>
<circle cx="827.1" cy="942.82" r="4.4" fill="none" stroke="#7a7a7a" stroke-width="1.1"/>
<circle cx="830.1" cy="942.82" r="4.4" fill="none" stroke="#7a7a7a" stroke-width="1.1"/>
<circle cx="833.1" cy="942.82" r="4.4" fill="none" stroke="#7a7a7a" stroke-width="1.1"/>
<circle cx="836.1" cy="942.82" r="4.4" fill="none" stroke="#7a7a7a" stroke-width="1.1"/>
<circle cx="839.1" cy="942.82" r="4.4" fill="none" stroke="#7a7a7a" stroke-width="1.1"/>
<circle cx="842.1" cy="942.82" r="4.4" fill="none" stroke="#7a7a7a" stroke-width="1.1"/>
<circle cx="821.4" cy="930.7" r="4.4" fill="none" stroke="#7a7a7a" stroke-width="1.1"/>
<circle cx="825.2" cy="930.7" r="4.4" fill="none" stroke="#7a7a7a" stroke-width="1.1"/>
<circle cx="829" cy="930.7" r="4.4" fill="none" stroke="#7a7a7a" stroke-width="1.1"/>
<circle cx="832.8" cy="930.7" r="4.4" fill="none" stroke="#7a7a7a" stroke-width="1.1"/>
<circle cx="827.1" cy="918.58" r="4.4" fill="none" stroke="#7a7a7a" stroke-width="1.1"/>
<circle cx="824.6" cy="906.46" r="4.4" fill="none" stroke="#7a7a7a" stroke-width="1.1"/>
<circle cx="829.6" cy="906.46" r="4.4" fill="none" stroke="#7a7a7a" stroke-width="1.1"/>
<circle cx="823.6" cy="894.34" r="4.4" fill="none" stroke="#7a7a7a" stroke-width="1.1"/>
<circle cx="827.1" cy="894.34" r="4.4" fill="none" stroke="#7a7a7a" stroke-width="1.1"/>
<circle cx="830.6" cy="894.34" r="4.4" fill="none" stroke="#7a7a7a" stroke-width="1.1"/>
<circle cx="820.3" cy="882.22" r="4.4" fill="none" stroke="#7a7a7a" stroke-width="1.1"/>
<circle cx="823.7" cy="882.22" r="4.4" fill="none" stroke="#7a7a7a" stroke-width="1.1"/>
<circle cx="827.1" cy="882.22" r="4.4" fill="none" stroke="#7a7a7a" stroke-width="1.1"/>
<circle cx="830.5" cy="882.22" r="4.4" fill="none" stroke="#7a7a7a" stroke-width="1.1"/>
<circle cx="833.9" cy="882.22" r="4.4" fill="none" stroke="#7a7a7a" stroke-width="1.1"/>
<circle cx="820.3" cy="870.1" r="4.4" fill="none" stroke="#7a7a7a" stroke-width="1.1"/>
<circle cx="823.7" cy="870.1" r="4.4" fill="none" stroke="#7a7a7a" stroke-width="1.1"/>
<circle cx="827.1" cy="870.1" r="4.4" fill="none" stroke="#7a7a7a" stroke-width="1.1"/>
<circle cx="830.5" cy="870.1" r="4.4" fill="none" stroke="#7a7a7a" stroke-width="1.1"/>
<circle cx="833.9" cy="870.1" r="4.4" fill="none" stroke="#7a7a7a" stroke-width="1.1"/>
<circle cx="825.1" cy="857.98" r="4.4" fill="none" stroke="#7a7a7a" stroke-width="1.1"/>
<circle cx="829.1" cy="857.98" r="4.4" fill="none" stroke="#7a7a7a" stroke-width="1.1"/>
<circle cx="821.1" cy="845.86" r="4.4" fill="none" stroke="#7a7a7a" stroke-width="1.1"/>
<circle cx="827.1" cy="845.86" r="4.4" fill="none" stroke="#7a7a7a" stroke-width="1.1"/>
<circle cx="833.1" cy="845.86" r="4.4" fill="none" stroke="#7a7a7a" stroke-width="1.1"/>
<circle cx="821.1" cy="833.74" r="4.4" fill="none" stroke="#7a7a7a" stroke-width="1.1"/>
<circle cx="825.1" cy="833.74" r="4.4" fill="none" stroke="#7a7a7a" stroke-width="1.1"/>
<circle cx="829.1" cy="833.74" r="4.4" fill="none" stroke="#7a7a7a" stroke-width="1.1"/>
<circle cx="833.1" cy="833.74" r="4.4" fill="none" stroke="#7a7a7a" stroke-width="1.1"/>
<circle cx="823.6" cy="821.62" r="4.4" fill="none" stroke="#7a7a7a" stroke-width="1.1"/>
<circle cx="830.6" cy="821.62" r="4.4" fill="none" stroke="#7a7a7a" stroke-width="1.1"/>
<circle cx="824.1" cy="797.38" r="4.4" fill="none" stroke="#7a7a7a" stroke-width="1.1"/>
<circle cx="825.6" cy="785.26" r="4.4" fill="none" stroke="#7a7a7a" stroke-width="1.1"/>
<circle cx="828.6" cy="785.26" r="4.4" fill="none" stroke="#7a7a7a" stroke-width="1.1"/>
<circle cx="825.6" cy="773.14" r="4.4" fill="none" stroke="#7a7a7a" stroke-width="1.1"/>
<circle cx="828.6" cy="773.14" r="4.4" fill="none" stroke="#7a7a7a" stroke-width="1.1"/>
<circle cx="827.1" cy="761.02" r="4.4" fill="none" stroke="#7a7a7a" stroke-width="1.1"/>
<circle cx="827.1" cy="676.18" r="4.4" fill="none" stroke="#7a7a7a" stroke-width="1.1"/>
<circle cx="827.1" cy="627.7" r="4.4" fill="none" stroke="#7a7a7a" stroke-width="1.1"/>
<path d="M823.1 676.18H831.1M827.1 672.18V680.18" stroke="#111" stroke-width="1.4"/>
<path d="M823.1 627.7H831.1M827.1 623.7V631.7" stroke="#111" stroke-width="1.4"/>
<line x1="715.8" y1="967.06" x2="742.6" y2="967.06" stroke="#e0070d" stroke-width="4.6"/>
<line x1="764.8" y1="967.06" x2="791.6" y2="967.06" stroke="#e0070d" stroke-width="4.6"/>
<line x1="813.9" y1="918.58" x2="840.3" y2="918.58" stroke="#e0070d" stroke-width="4.6"/>
<text x="728.5" y="1029" font-size="24" text-anchor="middle">2.5s</text>
<text x="778.3" y="1029" font-size="24" text-anchor="middle">5s</text>
<text x="826.5" y="1029" font-size="24" text-anchor="middle">20s</text>
<text x="675" y="1055.4" font-size="20" fill="#a8a8a8">n</text>
<text x="728.5" y="1055.4" font-size="20" text-anchor="middle" fill="#a8a8a8">9</text>
<text x="778.3" y="1055.4" font-size="20" text-anchor="middle" fill="#a8a8a8">39</text>
<text x="826.9" y="1055.4" font-size="20" text-anchor="middle" fill="#a8a8a8">74</text>
<line x1="1013.5" y1="626" x2="1013.5" y2="992" stroke="#000" stroke-width="2.2"/>
<line x1="1005" y1="990.9" x2="1014.5" y2="990.9" stroke="#000" stroke-width="2.2"/>
<text x="1000.7" y="1001.9" font-size="20" text-anchor="end">0</text>
<line x1="1005" y1="918.17" x2="1014.5" y2="918.17" stroke="#000" stroke-width="2.2"/>
<text x="1000.7" y="929.17" font-size="20" text-anchor="end">50</text>
<line x1="1005" y1="845.45" x2="1014.5" y2="845.45" stroke="#000" stroke-width="2.2"/>
<text x="1000.7" y="856.45" font-size="20" text-anchor="end">100</text>
<line x1="1005" y1="772.73" x2="1014.5" y2="772.73" stroke="#000" stroke-width="2.2"/>
<text x="1000.7" y="783.73" font-size="20" text-anchor="end">150</text>
<line x1="1005" y1="700" x2="1014.5" y2="700" stroke="#000" stroke-width="2.2"/>
<text x="1000.7" y="711" font-size="20" text-anchor="end">200</text>
<line x1="1005" y1="627.27" x2="1014.5" y2="627.27" stroke="#000" stroke-width="2.2"/>
<text x="1000.7" y="638.27" font-size="20" text-anchor="end">250</text>
<text x="955.5" y="810" font-size="25" text-anchor="middle" transform="rotate(-90 955.5 810)">Onset of last aberrant burrow episode (s)</text>
<line x1="1041.5" y1="958.9" x2="1041.5" y2="932.72" stroke="#000" stroke-width="2.9"/>
<line x1="1041.5" y1="990.9" x2="1041.5" y2="990.9" stroke="#000" stroke-width="2.9"/>
<line x1="1033.5" y1="932.72" x2="1049.5" y2="932.72" stroke="#000" stroke-width="2.9"/>
<line x1="1033.5" y1="990.9" x2="1049.5" y2="990.9" stroke="#000" stroke-width="2.9"/>
<rect x="1027.5" y="958.9" width="28" height="32" fill="none" stroke="#000" stroke-width="2.9"/>
<circle cx="1041.41" cy="932.72" r="4.8" fill="none" stroke="#6e6e6e" stroke-width="1.2"/>
<circle cx="1047.83" cy="938.54" r="4.8" fill="none" stroke="#6e6e6e" stroke-width="1.2"/>
<circle cx="1040.71" cy="945.81" r="4.8" fill="none" stroke="#6e6e6e" stroke-width="1.2"/>
<circle cx="1041.94" cy="966.17" r="4.8" fill="none" stroke="#6e6e6e" stroke-width="1.2"/>
<circle cx="1041.03" cy="980.72" r="4.8" fill="none" stroke="#6e6e6e" stroke-width="1.2"/>
<circle cx="1033.72" cy="982.17" r="4.8" fill="none" stroke="#6e6e6e" stroke-width="1.2"/>
<circle cx="1042.17" cy="987.99" r="4.8" fill="none" stroke="#6e6e6e" stroke-width="1.2"/>
<circle cx="1035.62" cy="989.45" r="4.8" fill="none" stroke="#6e6e6e" stroke-width="1.2"/>
<line x1="1092.3" y1="961.08" x2="1092.3" y2="922.54" stroke="#000" stroke-width="2.9"/>
<line x1="1092.3" y1="989.45" x2="1092.3" y2="990.9" stroke="#000" stroke-width="2.9"/>
<line x1="1084.3" y1="922.54" x2="1100.3" y2="922.54" stroke="#000" stroke-width="2.9"/>
<line x1="1084.3" y1="990.9" x2="1100.3" y2="990.9" stroke="#000" stroke-width="2.9"/>
<rect x="1078.5" y="961.08" width="27.6" height="28.36" fill="none" stroke="#000" stroke-width="2.9"/>
<circle cx="1092.46" cy="922.54" r="4.8" fill="none" stroke="#6e6e6e" stroke-width="1.2"/>
<circle cx="1092.3" cy="939.99" r="4.8" fill="none" stroke="#6e6e6e" stroke-width="1.2"/>
<circle cx="1101.51" cy="942.9" r="4.8" fill="none" stroke="#6e6e6e" stroke-width="1.2"/>
<circle cx="1091.73" cy="947.26" r="4.8" fill="none" stroke="#6e6e6e" stroke-width="1.2"/>
<circle cx="1099.49" cy="950.17" r="4.8" fill="none" stroke="#6e6e6e" stroke-width="1.2"/>
<circle cx="1092.64" cy="954.54" r="4.8" fill="none" stroke="#6e6e6e" stroke-width="1.2"/>
<circle cx="1083.06" cy="955.99" r="4.8" fill="none" stroke="#6e6e6e" stroke-width="1.2"/>
<circle cx="1099.48" cy="958.9" r="4.8" fill="none" stroke="#6e6e6e" stroke-width="1.2"/>
<circle cx="1090.46" cy="960.36" r="4.8" fill="none" stroke="#6e6e6e" stroke-width="1.2"/>
<circle cx="1079.98" cy="961.81" r="4.8" fill="none" stroke="#6e6e6e" stroke-width="1.2"/>
<circle cx="1097.53" cy="963.26" r="4.8" fill="none" stroke="#6e6e6e" stroke-width="1.2"/>
<circle cx="1085.21" cy="966.17" r="4.8" fill="none" stroke="#6e6e6e" stroke-width="1.2"/>
<circle cx="1092.77" cy="969.08" r="4.8" fill="none" stroke="#6e6e6e" stroke-width="1.2"/>
<circle cx="1101.61" cy="970.54" r="4.8" fill="none" stroke="#6e6e6e" stroke-width="1.2"/>
<circle cx="1086.14" cy="973.45" r="4.8" fill="none" stroke="#6e6e6e" stroke-width="1.2"/>
<circle cx="1088.35" cy="974.9" r="4.8" fill="none" stroke="#6e6e6e" stroke-width="1.2"/>
<circle cx="1095.2" cy="976.36" r="4.8" fill="none" stroke="#6e6e6e" stroke-width="1.2"/>
<circle cx="1104.84" cy="977.81" r="4.8" fill="none" stroke="#6e6e6e" stroke-width="1.2"/>
<circle cx="1079.89" cy="979.26" r="4.8" fill="none" stroke="#6e6e6e" stroke-width="1.2"/>
<circle cx="1097.39" cy="980.72" r="4.8" fill="none" stroke="#6e6e6e" stroke-width="1.2"/>
<circle cx="1089.84" cy="982.17" r="4.8" fill="none" stroke="#6e6e6e" stroke-width="1.2"/>
<circle cx="1102.26" cy="982.17" r="4.8" fill="none" stroke="#6e6e6e" stroke-width="1.2"/>
<circle cx="1101.08" cy="983.63" r="4.8" fill="none" stroke="#6e6e6e" stroke-width="1.2"/>
<circle cx="1085.13" cy="985.08" r="4.8" fill="none" stroke="#6e6e6e" stroke-width="1.2"/>
<circle cx="1088.05" cy="985.08" r="4.8" fill="none" stroke="#6e6e6e" stroke-width="1.2"/>
<circle cx="1106.07" cy="986.54" r="4.8" fill="none" stroke="#6e6e6e" stroke-width="1.2"/>
<circle cx="1105.7" cy="986.54" r="4.8" fill="none" stroke="#6e6e6e" stroke-width="1.2"/>
<circle cx="1096.91" cy="987.99" r="4.8" fill="none" stroke="#6e6e6e" stroke-width="1.2"/>
<circle cx="1101.73" cy="987.99" r="4.8" fill="none" stroke="#6e6e6e" stroke-width="1.2"/>
<circle cx="1087.09" cy="989.45" r="4.8" fill="none" stroke="#6e6e6e" stroke-width="1.2"/>
<circle cx="1105.21" cy="989.45" r="4.8" fill="none" stroke="#6e6e6e" stroke-width="1.2"/>
<circle cx="1088.01" cy="989.45" r="4.8" fill="none" stroke="#6e6e6e" stroke-width="1.2"/>
<circle cx="1079.87" cy="990.17" r="4.8" fill="none" stroke="#6e6e6e" stroke-width="1.2"/>
<circle cx="1104.66" cy="990.46" r="4.8" fill="none" stroke="#6e6e6e" stroke-width="1.2"/>
<circle cx="1092.3" cy="889.09" r="4.6" fill="none" stroke="#7a7a7a" stroke-width="1.1"/>
<path d="M1088.3 889.09H1096.3M1092.3 885.09V893.09" stroke="#111" stroke-width="1.4"/>
<line x1="1142.6" y1="946.54" x2="1142.6" y2="886.18" stroke="#000" stroke-width="2.9"/>
<line x1="1142.6" y1="989.45" x2="1142.6" y2="990.9" stroke="#000" stroke-width="2.9"/>
<line x1="1134.6" y1="886.18" x2="1150.6" y2="886.18" stroke="#000" stroke-width="2.9"/>
<line x1="1134.6" y1="990.9" x2="1150.6" y2="990.9" stroke="#000" stroke-width="2.9"/>
<rect x="1129.2" y="946.54" width="26.8" height="42.91" fill="none" stroke="#000" stroke-width="2.9"/>
<circle cx="1141.91" cy="886.18" r="4.8" fill="none" stroke="#6e6e6e" stroke-width="1.2"/>
<circle cx="1151.74" cy="886.18" r="4.8" fill="none" stroke="#6e6e6e" stroke-width="1.2"/>
<circle cx="1135.88" cy="891.99" r="4.8" fill="none" stroke="#6e6e6e" stroke-width="1.2"/>
<circle cx="1142.14" cy="913.81" r="4.8" fill="none" stroke="#6e6e6e" stroke-width="1.2"/>
<circle cx="1142.69" cy="925.45" r="4.8" fill="none" stroke="#6e6e6e" stroke-width="1.2"/>
<circle cx="1142.16" cy="932.72" r="4.8" fill="none" stroke="#6e6e6e" stroke-width="1.2"/>
<circle cx="1149.04" cy="935.63" r="4.8" fill="none" stroke="#6e6e6e" stroke-width="1.2"/>
<circle cx="1136.31" cy="938.54" r="4.8" fill="none" stroke="#6e6e6e" stroke-width="1.2"/>
<circle cx="1154.94" cy="939.99" r="4.8" fill="none" stroke="#6e6e6e" stroke-width="1.2"/>
<circle cx="1143.14" cy="942.9" r="4.8" fill="none" stroke="#6e6e6e" stroke-width="1.2"/>
<circle cx="1129.03" cy="944.36" r="4.8" fill="none" stroke="#6e6e6e" stroke-width="1.2"/>
<circle cx="1136.95" cy="945.81" r="4.8" fill="none" stroke="#6e6e6e" stroke-width="1.2"/>
<circle cx="1148.82" cy="947.26" r="4.8" fill="none" stroke="#6e6e6e" stroke-width="1.2"/>
<circle cx="1158.28" cy="947.26" r="4.8" fill="none" stroke="#6e6e6e" stroke-width="1.2"/>
<circle cx="1140.03" cy="948.72" r="4.8" fill="none" stroke="#6e6e6e" stroke-width="1.2"/>
<circle cx="1122.75" cy="950.17" r="4.8" fill="none" stroke="#6e6e6e" stroke-width="1.2"/>
<circle cx="1136.61" cy="951.63" r="4.8" fill="none" stroke="#6e6e6e" stroke-width="1.2"/>
<circle cx="1147.69" cy="953.08" r="4.8" fill="none" stroke="#6e6e6e" stroke-width="1.2"/>
<circle cx="1154.73" cy="954.54" r="4.8" fill="none" stroke="#6e6e6e" stroke-width="1.2"/>
<circle cx="1129.94" cy="955.99" r="4.8" fill="none" stroke="#6e6e6e" stroke-width="1.2"/>
<circle cx="1161.2" cy="957.45" r="4.8" fill="none" stroke="#6e6e6e" stroke-width="1.2"/>
<circle cx="1142.12" cy="958.9" r="4.8" fill="none" stroke="#6e6e6e" stroke-width="1.2"/>
<circle cx="1123.95" cy="960.36" r="4.8" fill="none" stroke="#6e6e6e" stroke-width="1.2"/>
<circle cx="1149.49" cy="961.81" r="4.8" fill="none" stroke="#6e6e6e" stroke-width="1.2"/>
<circle cx="1136.09" cy="963.26" r="4.8" fill="none" stroke="#6e6e6e" stroke-width="1.2"/>
<circle cx="1159.11" cy="964.72" r="4.8" fill="none" stroke="#6e6e6e" stroke-width="1.2"/>
<circle cx="1140.95" cy="966.17" r="4.8" fill="none" stroke="#6e6e6e" stroke-width="1.2"/>
<circle cx="1129.6" cy="967.63" r="4.8" fill="none" stroke="#6e6e6e" stroke-width="1.2"/>
<circle cx="1148.61" cy="969.08" r="4.8" fill="none" stroke="#6e6e6e" stroke-width="1.2"/>
<circle cx="1132.26" cy="970.54" r="4.8" fill="none" stroke="#6e6e6e" stroke-width="1.2"/>
<circle cx="1143.52" cy="970.54" r="4.8" fill="none" stroke="#6e6e6e" stroke-width="1.2"/>
<circle cx="1155.03" cy="971.99" r="4.8" fill="none" stroke="#6e6e6e" stroke-width="1.2"/>
<circle cx="1123.36" cy="973.45" r="4.8" fill="none" stroke="#6e6e6e" stroke-width="1.2"/>
<circle cx="1151.54" cy="973.45" r="4.8" fill="none" stroke="#6e6e6e" stroke-width="1.2"/>
<circle cx="1161.09" cy="974.9" r="4.8" fill="none" stroke="#6e6e6e" stroke-width="1.2"/>
<circle cx="1155.48" cy="976.36" r="4.8" fill="none" stroke="#6e6e6e" stroke-width="1.2"/>
<circle cx="1126.92" cy="976.36" r="4.8" fill="none" stroke="#6e6e6e" stroke-width="1.2"/>
<circle cx="1142.26" cy="977.81" r="4.8" fill="none" stroke="#6e6e6e" stroke-width="1.2"/>
<circle cx="1148.66" cy="977.81" r="4.8" fill="none" stroke="#6e6e6e" stroke-width="1.2"/>
<circle cx="1161.66" cy="979.26" r="4.8" fill="none" stroke="#6e6e6e" stroke-width="1.2"/>
<circle cx="1160.55" cy="979.26" r="4.8" fill="none" stroke="#6e6e6e" stroke-width="1.2"/>
<circle cx="1132.8" cy="980.72" r="4.8" fill="none" stroke="#6e6e6e" stroke-width="1.2"/>
<circle cx="1142.58" cy="980.72" r="4.8" fill="none" stroke="#6e6e6e" stroke-width="1.2"/>
<circle cx="1134.84" cy="982.17" r="4.8" fill="none" stroke="#6e6e6e" stroke-width="1.2"/>
<circle cx="1162.95" cy="982.17" r="4.8" fill="none" stroke="#6e6e6e" stroke-width="1.2"/>
<circle cx="1123.51" cy="983.63" r="4.8" fill="none" stroke="#6e6e6e" stroke-width="1.2"/>
<circle cx="1138.46" cy="983.63" r="4.8" fill="none" stroke="#6e6e6e" stroke-width="1.2"/>
<circle cx="1148.53" cy="985.08" r="4.8" fill="none" stroke="#6e6e6e" stroke-width="1.2"/>
<circle cx="1154.36" cy="985.08" r="4.8" fill="none" stroke="#6e6e6e" stroke-width="1.2"/>
<circle cx="1140.69" cy="986.54" r="4.8" fill="none" stroke="#6e6e6e" stroke-width="1.2"/>
<circle cx="1124.63" cy="986.54" r="4.8" fill="none" stroke="#6e6e6e" stroke-width="1.2"/>
<circle cx="1142.82" cy="986.54" r="4.8" fill="none" stroke="#6e6e6e" stroke-width="1.2"/>
<circle cx="1129.89" cy="987.99" r="4.8" fill="none" stroke="#6e6e6e" stroke-width="1.2"/>
<circle cx="1144.64" cy="987.99" r="4.8" fill="none" stroke="#6e6e6e" stroke-width="1.2"/>
<circle cx="1141.48" cy="987.99" r="4.8" fill="none" stroke="#6e6e6e" stroke-width="1.2"/>
<circle cx="1161.22" cy="989.45" r="4.8" fill="none" stroke="#6e6e6e" stroke-width="1.2"/>
<circle cx="1141.68" cy="989.45" r="4.8" fill="none" stroke="#6e6e6e" stroke-width="1.2"/>
<circle cx="1136.98" cy="989.45" r="4.8" fill="none" stroke="#6e6e6e" stroke-width="1.2"/>
<circle cx="1129.92" cy="989.45" r="4.8" fill="none" stroke="#6e6e6e" stroke-width="1.2"/>
<circle cx="1147.62" cy="990.17" r="4.8" fill="none" stroke="#6e6e6e" stroke-width="1.2"/>
<circle cx="1145.31" cy="990.17" r="4.8" fill="none" stroke="#6e6e6e" stroke-width="1.2"/>
<circle cx="1135.4" cy="990.46" r="4.8" fill="none" stroke="#6e6e6e" stroke-width="1.2"/>
<circle cx="1142.6" cy="870.18" r="4.6" fill="none" stroke="#7a7a7a" stroke-width="1.1"/>
<circle cx="1140.6" cy="820.72" r="4.6" fill="none" stroke="#7a7a7a" stroke-width="1.1"/>
<circle cx="1145.6" cy="816.36" r="4.6" fill="none" stroke="#7a7a7a" stroke-width="1.1"/>
<circle cx="1140.6" cy="775.63" r="4.6" fill="none" stroke="#7a7a7a" stroke-width="1.1"/>
<circle cx="1142.6" cy="772.73" r="4.6" fill="none" stroke="#7a7a7a" stroke-width="1.1"/>
<circle cx="1145.6" cy="765.45" r="4.6" fill="none" stroke="#7a7a7a" stroke-width="1.1"/>
<circle cx="1142.6" cy="755.27" r="4.6" fill="none" stroke="#7a7a7a" stroke-width="1.1"/>
<circle cx="1142.6" cy="643.27" r="4.6" fill="none" stroke="#7a7a7a" stroke-width="1.1"/>
<path d="M1138.6 870.18H1146.6M1142.6 866.18V874.18" stroke="#111" stroke-width="1.4"/>
<path d="M1138.6 820.72H1146.6M1142.6 816.72V824.72" stroke="#111" stroke-width="1.4"/>
<path d="M1138.6 816.36H1146.6M1142.6 812.36V820.36" stroke="#111" stroke-width="1.4"/>
<path d="M1138.6 775.63H1146.6M1142.6 771.63V779.63" stroke="#111" stroke-width="1.4"/>
<path d="M1138.6 772.73H1146.6M1142.6 768.73V776.73" stroke="#111" stroke-width="1.4"/>
<path d="M1138.6 765.45H1146.6M1142.6 761.45V769.45" stroke="#111" stroke-width="1.4"/>
<path d="M1138.6 755.27H1146.6M1142.6 751.27V759.27" stroke="#111" stroke-width="1.4"/>
<path d="M1138.6 643.27H1146.6M1142.6 639.27V647.27" stroke="#111" stroke-width="1.4"/>
<line x1="1028.5" y1="987.99" x2="1054.5" y2="987.99" stroke="#e0070d" stroke-width="4.6"/>
<line x1="1079.5" y1="982.17" x2="1105.1" y2="982.17" stroke="#e0070d" stroke-width="4.6"/>
<line x1="1130.2" y1="971.7" x2="1155" y2="971.7" stroke="#e0070d" stroke-width="4.6"/>
<text x="1041.2" y="1029" font-size="24" text-anchor="middle">2.5s</text>
<text x="1092.5" y="1029" font-size="24" text-anchor="middle">5s</text>
<text x="1141.8" y="1029" font-size="24" text-anchor="middle">20s</text>
<text x="989.5" y="1055.5" font-size="20" fill="#a8a8a8">n</text>
<text x="1041.5" y="1055.5" font-size="20" text-anchor="middle" fill="#a8a8a8">8</text>
<text x="1092.3" y="1055.5" font-size="20" text-anchor="middle" fill="#a8a8a8">35</text>
<text x="1142" y="1055.5" font-size="20" text-anchor="middle" fill="#a8a8a8">70</text>
<rect x="32.6" y="618" width="533.7" height="60.4" fill="#d9d9d9" stroke="#bdbdbd" stroke-width="3.6"/>
<rect x="32.6" y="689.7" width="533.6" height="313.5" fill="#fff" stroke="#bdbdbd" stroke-width="3.6"/>
<text x="299.4" y="657.5" font-size="25" text-anchor="middle" font-weight="bold" fill="#111">Control (NO light)</text>
<line x1="134" y1="719.6" x2="134" y2="907.9" stroke="#333" stroke-width="1.3"/>
<line x1="125.4" y1="720.1" x2="134" y2="720.1" stroke="#333" stroke-width="1.3"/>
<text x="119" y="728.4" font-size="20" text-anchor="end" fill="#111">1</text>
<line x1="125.4" y1="813.75" x2="134" y2="813.75" stroke="#333" stroke-width="1.3"/>
<text x="118.8" y="822.05" font-size="20" text-anchor="end" fill="#111">0.5</text>
<line x1="125.4" y1="907.4" x2="134" y2="907.4" stroke="#333" stroke-width="1.3"/>
<text x="118.8" y="915.7" font-size="20" text-anchor="end" fill="#111">0</text>
<line x1="165.8" y1="907.4" x2="165.8" y2="917" stroke="#333" stroke-width="1.3"/>
<text x="165.8" y="938.9" font-size="20" text-anchor="middle" fill="#111">0</text>
<line x1="218.8" y1="907.4" x2="218.8" y2="917" stroke="#333" stroke-width="1.3"/>
<line x1="271.8" y1="907.4" x2="271.8" y2="917" stroke="#333" stroke-width="1.3"/>
<text x="271.8" y="938.9" font-size="20" text-anchor="middle" fill="#111">10</text>
<line x1="324.8" y1="907.4" x2="324.8" y2="917" stroke="#333" stroke-width="1.3"/>
<line x1="377.8" y1="907.4" x2="377.8" y2="917" stroke="#333" stroke-width="1.3"/>
<text x="377.8" y="938.9" font-size="20" text-anchor="middle" fill="#111">20</text>
<line x1="430.8" y1="907.4" x2="430.8" y2="917" stroke="#333" stroke-width="1.3"/>
<line x1="483.8" y1="907.4" x2="483.8" y2="917" stroke="#333" stroke-width="1.3"/>
<text x="483.8" y="938.9" font-size="20" text-anchor="middle" fill="#111">30</text>
<line x1="536.8" y1="907.4" x2="536.8" y2="917" stroke="#333" stroke-width="1.3"/>
<text x="78.7" y="814.25" font-size="25" text-anchor="middle" fill="#111" transform="rotate(-90 78.7 814.25)">Fraction (n = 83)</text>
<text x="184" y="968.9" font-size="25" fill="#111">Time after egg expulsion (s)</text>
<path d="M134 907.4 L135.59 907.4 L137.18 907.4 L138.77 907.4 L140.36 907.4 L141.95 907.4 L143.54 907.4 L145.13 907.4 L146.72 907.4 L148.31 907.4 L149.9 907.4 L151.49 907.4 L153.08 907.4 L154.67 907.4 L156.26 907.4 L157.85 907.4 L159.44 907.4 L161.03 907.4 L162.62 907.4 L164.21 907.4 L165.8 907.4 L167.39 907.4 L168.98 907.4 L170.57 907.4 L172.16 907.4 L173.75 907.4 L175.34 907.4 L176.93 907.4 L178.52 907.4 L180.11 907.4 L181.7 907.4 L183.29 907.4 L184.88 907.4 L186.47 907.4 L188.06 907.4 L189.65 907.4 L191.24 907.4 L192.83 907.4 L194.42 907.4 L196.01 907.4 L197.6 907.4 L199.19 905.14 L200.78 896.12 L202.37 880.32 L203.96 862.27 L205.55 846.47 L207.14 828.42 L208.73 810.37 L210.32 799.08 L211.91 787.8 L213.5 781.03 L215.09 776.52 L216.68 778.77 L218.27 790.06 L219.86 781.03 L221.45 769.75 L223.04 751.69 L224.63 765.23 L226.22 778.77 L227.81 790.06 L229.4 783.29 L230.99 778.77 L232.58 772 L234.17 787.8 L235.76 796.83 L237.35 790.06 L238.94 781.03 L240.53 774.26 L242.12 776.52 L243.71 790.06 L245.3 801.34 L246.89 805.85 L248.48 796.83 L250.07 785.54 L251.66 781.03 L253.25 776.52 L254.84 774.26 L256.43 783.29 L258.02 792.31 L259.61 799.08 L261.2 796.83 L262.79 799.08 L264.38 799.08 L265.97 792.31 L267.56 799.08 L269.15 801.34 L270.74 805.85 L272.33 814.88 L273.92 801.34 L275.51 790.06 L277.1 783.29 L278.69 787.8 L280.28 792.31 L281.87 801.34 L283.46 805.85 L285.05 810.37 L286.64 812.62 L288.23 812.62 L289.82 817.13 L291.41 814.88 L293 819.39 L294.59 817.13 L296.18 814.88 L297.77 819.39 L299.36 826.16 L300.95 826.16 L302.54 823.9 L304.13 826.16 L305.72 826.16 L307.31 837.44 L308.9 839.7 L310.49 837.44 L312.08 837.44 L313.67 844.21 L315.26 835.19 L316.85 828.42 L318.44 828.42 L320.03 837.44 L321.62 839.7 L323.21 839.7 L324.8 832.93 L326.39 837.44 L327.98 841.96 L329.57 835.19 L331.16 841.96 L332.75 830.67 L334.34 841.96 L335.93 846.47 L337.52 837.44 L339.11 828.42 L340.7 828.42 L342.29 830.67 L343.88 848.73 L345.47 846.47 L347.06 846.47 L348.65 844.21 L350.24 835.19 L351.83 839.7 L353.42 830.67 L355.01 835.19 L356.6 841.96 L358.19 841.96 L359.78 841.96 L361.37 837.44 L362.96 841.96 L364.55 841.96 L366.14 848.73 L367.73 832.93 L369.32 828.42 L370.91 841.96 L372.5 850.98 L374.09 862.27 L375.68 860.01 L377.27 860.01 L378.86 848.73 L380.45 860.01 L382.04 873.55 L383.63 889.35 L385.22 866.78 L386.81 864.52 L388.4 875.81 L389.99 866.78 L391.58 875.81 L393.17 841.96 L394.76 844.21 L396.35 848.73 L397.94 857.75 L399.53 873.55 L401.12 866.78 L402.71 875.81 L404.3 864.52 L405.89 880.32 L407.48 878.06 L409.07 864.52 L410.66 855.5 L412.25 869.04 L413.84 878.06 L415.43 864.52 L417.02 860.01 L418.61 869.04 L420.2 871.29 L421.79 871.29 L423.38 875.81 L424.97 873.55 L426.56 857.75 L428.15 855.5 L429.74 844.21 L431.33 853.24 L432.92 860.01 L434.51 869.04 L436.1 869.04 L437.69 878.06 L439.28 884.83 L440.87 871.29 L442.46 860.01 L444.05 857.75 L445.64 853.24 L447.23 860.01 L448.82 866.78 L450.41 866.78 L452 871.29 L453.59 880.32 L455.18 887.09 L456.77 891.6 L458.36 882.58 L459.95 878.06 L461.54 882.58 L463.13 871.29 L464.72 873.55 L466.31 869.04 L467.9 862.27 L469.49 871.29 L471.08 884.83 L472.67 871.29 L474.26 875.81 L475.85 864.52 L477.44 866.78 L479.03 864.52 L480.62 864.52 L482.21 884.83 L483.8 875.81 L485.39 880.32 L486.98 880.32 L488.57 878.06 L490.16 869.04 L491.75 862.27 L493.34 857.75 L494.93 875.81 L496.52 878.06 L498.11 891.6 L499.7 882.58 L501.29 873.55 L502.88 878.06 L504.47 875.81 L506.06 873.55 L507.65 866.78 L509.24 878.06 L510.83 880.32 L512.42 882.58 L514.01 864.52 L515.6 862.27 L517.19 869.04 L518.78 869.04 L520.37 869.04 L521.96 869.04 L523.55 871.29 L525.14 873.55 L526.73 880.32 L528.32 880.32 L529.91 862.27 L531.5 864.52 L533.09 869.04 L534.68 875.81 L536.27 875.81" fill="none" stroke="#9a9a9a" stroke-width="3.6" stroke-linejoin="round"/>
<path d="M134 907.4 L165.8 907.4 L168.45 804.38 L170.57 742.58 L172.16 725.72 L173.75 720.1 L198.66 720.1 L201.84 748.19 L205.02 813.75 L209.26 851.21 L212.44 875.56 L216.68 894.29 L221.98 903.65 L225.16 907.4 L536.8 907.4" fill="none" stroke="#f5e23a" stroke-width="3.2" stroke-linejoin="round"/>
<path d="M152.02 905.14 L156.47 905.14 L156.47 907.4 L161.77 907.4 L161.77 905.14 L165.59 905.14 L165.59 907.4 L167.28 907.4 L167.28 905.14 L172.16 905.14 L172.16 907.4 L179.16 907.4 L179.16 905.14 L189.33 905.14 L189.33 907.4 L197.6 907.4 L197.6 900.63 L200.36 900.63 L200.36 907.4 L202.69 907.4 L202.69 896.12 L206.08 896.12 L206.08 900.63 L210.53 900.63 L210.53 898.37 L213.71 898.37 L213.71 900.63 L223.46 900.63 L223.46 898.37 L226.01 898.37 L226.01 905.14 L228.98 905.14 L228.98 896.12 L229.4 896.12 L229.4 905.14 L234.49 905.14 L234.49 907.4 L236.82 907.4 L236.82 900.63 L243.18 900.63 L243.18 907.4 L248.06 907.4 L248.06 905.14 L249.96 905.14 L249.96 907.4 L252.51 907.4 L252.51 902.89 L257.6 902.89 L257.6 907.4 L259.93 907.4 L259.93 905.14 L264.38 905.14 L264.38 907.4 L268.41 907.4 L268.41 902.89 L270.1 902.89 L270.1 900.63 L271.8 900.63 L271.8 907.4 L281.34 907.4 L281.34 905.14 L287.28 905.14 L287.28 907.4 L296.82 907.4 L296.82 902.89 L301.69 902.89 L301.69 907.4 L318.44 907.4 L318.44 902.89 L323.32 902.89 L323.32 905.14 L327.13 905.14 L327.13 907.4 L329.68 907.4 L329.68 902.89 L332.86 902.89 L332.86 907.4 L336.04 907.4 L336.04 902.89 L340.06 902.89 L340.06 907.4 L348.33 907.4 L348.33 902.89 L350.45 902.89 L350.45 907.4 L357.24 907.4 L357.24 905.14 L360.2 905.14 L360.2 907.4 L362.75 907.4 L362.75 902.89 L367.2 902.89 L367.2 907.4 L371.65 907.4 L371.65 902.89 L375.89 902.89 L375.89 907.4 L406.42 907.4 L406.42 902.89 L408.96 902.89 L408.96 907.4 L413.63 907.4 L413.63 905.14 L415.54 905.14 L415.54 907.4 L419.14 907.4 L419.14 905.14 L422.96 905.14 L422.96 902.89 L428.04 902.89 L428.04 905.14 L429.74 905.14 L429.74 907.4 L439.49 907.4 L439.49 905.14 L441.61 905.14 L441.61 907.4 L449.03 907.4 L449.03 902.89 L450.52 902.89 L450.52 907.4 L478.71 907.4 L478.71 905.14 L481.04 905.14 L481.04 907.4 L501.4 907.4 L501.4 902.89 L508.6 902.89 L508.6 907.4 L513.69 907.4 L513.69 905.14 L518.14 905.14 L518.14 907.4 L525.78 907.4 L525.78 902.89 L530.44 902.89 L530.44 907.4 L536.8 907.4" fill="none" stroke="#0a0ae6" stroke-width="3.5" stroke-linejoin="round"/>
<path d="M134 720.1 L165.27 720.1 L168.45 813.75 L171.63 892.42 L174.28 907.4 L536.8 907.4" fill="none" stroke="#db36df" stroke-width="4.6" stroke-linejoin="round"/>
<text x="208.3" y="1063.7" font-size="24.8" fill="#1414c0">PE</text>
<text x="248.7" y="1063.7" font-size="24.8" fill="#38de38">bend</text>
<text x="315.6" y="1063.7" font-size="24.8" fill="#cc44cc">burrow</text>
<text x="402" y="1063.7" font-size="24.8" fill="#d2c12c">detach</text>
<text x="486" y="1063.7" font-size="24.8" fill="#9a9a9a">groom</text>
<rect x="32.3" y="1109.5" width="533.9" height="85.7" fill="#d9d9d9"/>
<rect x="32.3" y="1109.5" width="533.9" height="967.2" fill="none" stroke="#bdbdbd" stroke-width="3.6"/>
<line x1="30.5" y1="1195.3" x2="568" y2="1195.3" stroke="#bdbdbd" stroke-width="3.6"/>
<text x="299.25" y="1149.5" font-size="25" text-anchor="middle" font-weight="bold" fill="#e0070d">Photo-stimulation</text>
<text x="299.25" y="1174.7" font-size="20.6" text-anchor="middle" fill="#111"><tspan>burrowing </tspan><tspan font-weight="bold">persists</tspan><tspan> throughout photo-stimulation</tspan></text>
<rect x="630.3" y="1109.5" width="533.9" height="85.7" fill="#d9d9d9"/>
<rect x="630.3" y="1109.5" width="533.9" height="967.2" fill="none" stroke="#bdbdbd" stroke-width="3.6"/>
<line x1="628.5" y1="1195.3" x2="1166" y2="1195.3" stroke="#bdbdbd" stroke-width="3.6"/>
<text x="897.25" y="1149.5" font-size="25" text-anchor="middle" font-weight="bold" fill="#e0070d">Photo-stimulation</text>
<text x="897.25" y="1174.7" font-size="20.6" text-anchor="middle" fill="#111"><tspan>burrowing </tspan><tspan font-weight="bold">stops</tspan><tspan> during photo-stimulation</tspan></text>
<line x1="134.06" y1="1238.2" x2="134.06" y2="1425.8" stroke="#333" stroke-width="1.3"/>
<line x1="125.46" y1="1238.7" x2="134.06" y2="1238.7" stroke="#333" stroke-width="1.3"/>
<text x="119.06" y="1247" font-size="20" text-anchor="end" fill="#111">1</text>
<line x1="125.46" y1="1332" x2="134.06" y2="1332" stroke="#333" stroke-width="1.3"/>
<text x="118.86" y="1340.3" font-size="20" text-anchor="end" fill="#111">0.5</text>
<line x1="125.46" y1="1425.3" x2="134.06" y2="1425.3" stroke="#333" stroke-width="1.3"/>
<text x="118.86" y="1433.6" font-size="20" text-anchor="end" fill="#111">0</text>
<line x1="165.8" y1="1425.3" x2="165.8" y2="1434.9" stroke="#333" stroke-width="1.3"/>
<text x="165.8" y="1456.8" font-size="20" text-anchor="middle" fill="#111">0</text>
<line x1="218.7" y1="1425.3" x2="218.7" y2="1434.9" stroke="#333" stroke-width="1.3"/>
<line x1="271.6" y1="1425.3" x2="271.6" y2="1434.9" stroke="#333" stroke-width="1.3"/>
<text x="271.6" y="1456.8" font-size="20" text-anchor="middle" fill="#111">10</text>
<line x1="324.5" y1="1425.3" x2="324.5" y2="1434.9" stroke="#333" stroke-width="1.3"/>
<line x1="377.4" y1="1425.3" x2="377.4" y2="1434.9" stroke="#333" stroke-width="1.3"/>
<text x="377.4" y="1456.8" font-size="20" text-anchor="middle" fill="#111">20</text>
<line x1="430.3" y1="1425.3" x2="430.3" y2="1434.9" stroke="#333" stroke-width="1.3"/>
<line x1="483.2" y1="1425.3" x2="483.2" y2="1434.9" stroke="#333" stroke-width="1.3"/>
<text x="483.2" y="1456.8" font-size="20" text-anchor="middle" fill="#111">30</text>
<line x1="536.1" y1="1425.3" x2="536.1" y2="1434.9" stroke="#333" stroke-width="1.3"/>
<text x="78.76" y="1332.5" font-size="25" text-anchor="middle" fill="#111" transform="rotate(-90 78.76 1332.5)">Fraction (n = 51)</text>
<rect x="145.7" y="1208.9" width="46.55" height="23.4" fill="#f8c2c2" stroke="#d0191b" stroke-width="2"/>
<line x1="150.9" y1="1233.3" x2="156.7" y2="1207.9" stroke="#fff" stroke-width="3.2"/>
<text x="260.6" y="1229.3" font-size="25" fill="#111">2.5-s light</text>
<line x1="134.06" y1="1515.1" x2="134.06" y2="1702.7" stroke="#333" stroke-width="1.3"/>
<line x1="125.46" y1="1515.6" x2="134.06" y2="1515.6" stroke="#333" stroke-width="1.3"/>
<text x="119.06" y="1523.9" font-size="20" text-anchor="end" fill="#111">1</text>
<line x1="125.46" y1="1608.9" x2="134.06" y2="1608.9" stroke="#333" stroke-width="1.3"/>
<text x="118.86" y="1617.2" font-size="20" text-anchor="end" fill="#111">0.5</text>
<line x1="125.46" y1="1702.2" x2="134.06" y2="1702.2" stroke="#333" stroke-width="1.3"/>
<text x="118.86" y="1710.5" font-size="20" text-anchor="end" fill="#111">0</text>
<line x1="165.8" y1="1702.2" x2="165.8" y2="1711.8" stroke="#333" stroke-width="1.3"/>
<text x="165.8" y="1733.7" font-size="20" text-anchor="middle" fill="#111">0</text>
<line x1="218.7" y1="1702.2" x2="218.7" y2="1711.8" stroke="#333" stroke-width="1.3"/>
<line x1="271.6" y1="1702.2" x2="271.6" y2="1711.8" stroke="#333" stroke-width="1.3"/>
<text x="271.6" y="1733.7" font-size="20" text-anchor="middle" fill="#111">10</text>
<line x1="324.5" y1="1702.2" x2="324.5" y2="1711.8" stroke="#333" stroke-width="1.3"/>
<line x1="377.4" y1="1702.2" x2="377.4" y2="1711.8" stroke="#333" stroke-width="1.3"/>
<text x="377.4" y="1733.7" font-size="20" text-anchor="middle" fill="#111">20</text>
<line x1="430.3" y1="1702.2" x2="430.3" y2="1711.8" stroke="#333" stroke-width="1.3"/>
<line x1="483.2" y1="1702.2" x2="483.2" y2="1711.8" stroke="#333" stroke-width="1.3"/>
<text x="483.2" y="1733.7" font-size="20" text-anchor="middle" fill="#111">30</text>
<line x1="536.1" y1="1702.2" x2="536.1" y2="1711.8" stroke="#333" stroke-width="1.3"/>
<text x="78.76" y="1609.4" font-size="25" text-anchor="middle" fill="#111" transform="rotate(-90 78.76 1609.4)">Fraction (n = 41)</text>
<rect x="145.7" y="1485.8" width="73" height="23.4" fill="#f8c2c2" stroke="#d0191b" stroke-width="2"/>
<line x1="150.9" y1="1510.2" x2="156.7" y2="1484.8" stroke="#fff" stroke-width="3.2"/>
<text x="271.4" y="1506.2" font-size="25" fill="#111">5-s light</text>
<line x1="134.06" y1="1790.6" x2="134.06" y2="1978.2" stroke="#333" stroke-width="1.3"/>
<line x1="125.46" y1="1791.1" x2="134.06" y2="1791.1" stroke="#333" stroke-width="1.3"/>
<text x="119.06" y="1799.4" font-size="20" text-anchor="end" fill="#111">1</text>
<line x1="125.46" y1="1884.4" x2="134.06" y2="1884.4" stroke="#333" stroke-width="1.3"/>
<text x="118.86" y="1892.7" font-size="20" text-anchor="end" fill="#111">0.5</text>
<line x1="125.46" y1="1977.7" x2="134.06" y2="1977.7" stroke="#333" stroke-width="1.3"/>
<text x="118.86" y="1986" font-size="20" text-anchor="end" fill="#111">0</text>
<line x1="165.8" y1="1977.7" x2="165.8" y2="1987.3" stroke="#333" stroke-width="1.3"/>
<text x="165.8" y="2009.2" font-size="20" text-anchor="middle" fill="#111">0</text>
<line x1="218.7" y1="1977.7" x2="218.7" y2="1987.3" stroke="#333" stroke-width="1.3"/>
<line x1="271.6" y1="1977.7" x2="271.6" y2="1987.3" stroke="#333" stroke-width="1.3"/>
<text x="271.6" y="2009.2" font-size="20" text-anchor="middle" fill="#111">10</text>
<line x1="324.5" y1="1977.7" x2="324.5" y2="1987.3" stroke="#333" stroke-width="1.3"/>
<line x1="377.4" y1="1977.7" x2="377.4" y2="1987.3" stroke="#333" stroke-width="1.3"/>
<text x="377.4" y="2009.2" font-size="20" text-anchor="middle" fill="#111">20</text>
<line x1="430.3" y1="1977.7" x2="430.3" y2="1987.3" stroke="#333" stroke-width="1.3"/>
<line x1="483.2" y1="1977.7" x2="483.2" y2="1987.3" stroke="#333" stroke-width="1.3"/>
<text x="483.2" y="2009.2" font-size="20" text-anchor="middle" fill="#111">30</text>
<line x1="536.1" y1="1977.7" x2="536.1" y2="1987.3" stroke="#333" stroke-width="1.3"/>
<text x="78.76" y="1884.9" font-size="25" text-anchor="middle" fill="#111" transform="rotate(-90 78.76 1884.9)">Fraction (n = 1)</text>
<text x="157.7" y="2039.7" font-size="25" fill="#111">Time after egg expulsion (s)</text>
<path d="M134.06 1425.3 L136.18 1425.3 L138.29 1425.3 L140.41 1425.3 L142.52 1425.3 L144.64 1425.3 L146.76 1425.3 L148.87 1425.3 L150.99 1425.3 L153.1 1425.3 L155.22 1425.3 L157.34 1425.3 L159.45 1425.3 L161.57 1425.3 L163.68 1425.3 L165.8 1425.3 L167.92 1425.3 L170.03 1425.3 L172.15 1425.3 L174.26 1425.3 L176.38 1425.3 L178.5 1425.3 L180.61 1425.3 L182.73 1425.3 L184.84 1425.3 L186.96 1425.3 L189.08 1425.3 L191.19 1425.3 L193.31 1425.3 L195.42 1425.3 L197.54 1425.3 L199.66 1425.3 L201.77 1425.3 L203.89 1425.3 L206 1425.3 L208.12 1425.3 L210.24 1425.3 L212.35 1425.3 L214.47 1425.3 L216.58 1425.3 L218.7 1425.3 L220.82 1425.3 L222.93 1425.3 L225.05 1425.3 L227.16 1414.32 L229.28 1388.71 L231.4 1363.1 L233.51 1348.46 L235.63 1330.17 L237.74 1319.19 L239.86 1319.19 L241.98 1326.51 L244.09 1300.9 L246.21 1319.19 L248.32 1319.19 L250.44 1300.9 L252.56 1308.22 L254.67 1293.58 L256.79 1275.29 L258.9 1278.95 L261.02 1282.61 L263.14 1289.92 L265.25 1300.9 L267.37 1341.15 L269.48 1341.15 L271.6 1330.17 L273.72 1341.15 L275.83 1330.17 L277.95 1319.19 L280.06 1300.9 L282.18 1322.85 L284.3 1326.51 L286.41 1319.19 L288.53 1315.54 L290.64 1337.49 L292.76 1308.22 L294.88 1330.17 L296.99 1319.19 L299.11 1330.17 L301.22 1322.85 L303.34 1308.22 L305.46 1311.88 L307.57 1319.19 L309.69 1330.17 L311.8 1333.83 L313.92 1341.15 L316.04 1304.56 L318.15 1330.17 L320.27 1348.46 L322.38 1308.22 L324.5 1293.58 L326.62 1304.56 L328.73 1297.24 L330.85 1311.88 L332.96 1315.54 L335.08 1304.56 L337.2 1304.56 L339.31 1315.54 L341.43 1293.58 L343.54 1297.24 L345.66 1304.56 L347.78 1322.85 L349.89 1311.88 L352.01 1315.54 L354.12 1311.88 L356.24 1300.9 L358.36 1311.88 L360.47 1308.22 L362.59 1300.9 L364.7 1300.9 L366.82 1282.61 L368.94 1319.19 L371.05 1315.54 L373.17 1326.51 L375.28 1319.19 L377.4 1289.92 L379.52 1326.51 L381.63 1326.51 L383.75 1319.19 L385.86 1322.85 L387.98 1315.54 L390.1 1341.15 L392.21 1322.85 L394.33 1337.49 L396.44 1348.46 L398.56 1330.17 L400.68 1326.51 L402.79 1337.49 L404.91 1344.81 L407.02 1341.15 L409.14 1337.49 L411.26 1337.49 L413.37 1348.46 L415.49 1366.76 L417.6 1333.83 L419.72 1333.83 L421.84 1348.46 L423.95 1355.78 L426.07 1348.46 L428.18 1344.81 L430.3 1359.44 L432.42 1326.51 L434.53 1330.17 L436.65 1344.81 L438.76 1344.81 L440.88 1352.12 L443 1344.81 L445.11 1355.78 L447.23 1348.46 L449.34 1344.81 L451.46 1366.76 L453.58 1374.08 L455.69 1381.39 L457.81 1377.74 L459.92 1381.39 L462.04 1374.08 L464.16 1370.42 L466.27 1366.76 L468.39 1385.05 L470.5 1363.1 L472.62 1374.08 L474.74 1374.08 L476.85 1377.74 L478.97 1396.03 L481.08 1377.74 L483.2 1396.03 L485.32 1370.42 L487.43 1370.42 L489.55 1355.78 L491.66 1363.1 L493.78 1363.1 L495.9 1355.78 L498.01 1370.42 L500.13 1359.44 L502.24 1374.08 L504.36 1374.08 L506.48 1385.05 L508.59 1377.74 L510.71 1374.08 L512.82 1385.05 L514.94 1399.69 L517.06 1392.37 L519.17 1381.39 L521.29 1385.05 L523.4 1396.03 L525.52 1396.03 L527.64 1388.71 L529.75 1414.32 L531.87 1396.03 L533.98 1366.76 L536.1 1388.71" fill="none" stroke="#9a9a9a" stroke-width="3.6" stroke-linejoin="round"/>
<path d="M134.06 1425.3 L190.13 1425.3 L192.25 1415.97 L197.01 1285.35 L200.71 1259.23 L206 1242.43 L208.12 1238.7 L225.05 1238.7 L228.22 1266.69 L231.4 1313.34 L235.63 1361.86 L238.8 1393.58 L245.15 1414.1 L248.32 1423.43 L253.61 1425.3 L536.1 1425.3" fill="none" stroke="#f5e23a" stroke-width="3.2" stroke-linejoin="round"/>
<path d="M192.25 1423.06 L206 1423.06" fill="none" stroke="#27ea27" stroke-width="3.3" stroke-linejoin="round"/>
<path d="M185.9 1421.64 L191.19 1421.64 L191.19 1425.3 L194.37 1425.3 L194.37 1421.64 L201.77 1421.64 L201.77 1425.3 L217.64 1425.3 L217.64 1421.64 L221.87 1421.64 L221.87 1425.3 L225.05 1425.3 L225.05 1417.98 L230.34 1417.98 L230.34 1425.3 L234.57 1425.3 L234.57 1410.66 L238.8 1410.66 L238.8 1425.3 L243.03 1425.3 L243.03 1421.64 L246.21 1421.64 L246.21 1425.3 L263.14 1425.3 L263.14 1421.64 L270.54 1421.64 L270.54 1425.3 L289.59 1425.3 L289.59 1421.64 L294.88 1421.64 L294.88 1425.3 L304.4 1425.3 L304.4 1421.64 L307.57 1421.64 L307.57 1425.3 L313.92 1425.3 L313.92 1421.64 L320.9 1421.64 L320.9 1417.98 L322.17 1417.98 L322.17 1414.32 L323.65 1414.32 L323.65 1417.98 L332.75 1417.98 L332.75 1421.64 L336.35 1421.64 L336.35 1417.98 L338.04 1417.98 L338.04 1414.32 L339.74 1414.32 L339.74 1421.64 L341.43 1421.64 L341.43 1417.98 L350.95 1417.98 L350.95 1425.3 L359.41 1425.3 L359.41 1421.64 L361.74 1421.64 L361.74 1417.98 L364.07 1417.98 L364.07 1421.64 L366.4 1421.64 L366.4 1417.98 L370.84 1417.98 L370.84 1425.3 L381.63 1425.3 L381.63 1417.98 L391.15 1417.98 L391.15 1425.3 L396.44 1425.3 L396.44 1417.98 L399.41 1417.98 L399.41 1421.64 L401.52 1421.64 L401.52 1425.3 L403.22 1425.3 L403.22 1417.98 L405.97 1417.98 L405.97 1421.64 L411.04 1421.64 L411.04 1417.98 L413.8 1417.98 L413.8 1421.64 L420.99 1421.64 L420.99 1425.3 L427.97 1425.3 L427.97 1421.64 L430.3 1421.64 L430.3 1425.3 L444.69 1425.3 L444.69 1417.98 L450.61 1417.98 L450.61 1421.64 L455.27 1421.64 L455.27 1425.3 L457.17 1425.3 L457.17 1421.64 L463.52 1421.64 L463.52 1417.98 L466.27 1417.98 L466.27 1425.3 L475.79 1425.3 L475.79 1421.64 L480.03 1421.64 L480.03 1425.3 L497.8 1425.3 L497.8 1421.64 L499.07 1421.64 L499.07 1414.32 L500.55 1414.32 L500.55 1421.64 L508.17 1421.64 L508.17 1414.32 L510.07 1414.32 L510.07 1425.3 L512.19 1425.3 L512.19 1414.32 L514.52 1414.32 L514.52 1421.64 L518.11 1421.64 L518.11 1414.32 L521.71 1414.32 L521.71 1421.64 L524.46 1421.64 L524.46 1425.3 L527.64 1425.3 L527.64 1421.64 L533.98 1421.64 L533.98 1425.3 L536.1 1425.3" fill="none" stroke="#0a0ae6" stroke-width="3.5" stroke-linejoin="round"/>
<path d="M134.06 1238.7 L191.72 1238.7 L192.88 1262.96 L194.37 1309.61 L196.48 1369.32 L200.71 1387.98 L203.89 1399.18 L207.06 1421.57 L208.12 1425.3 L536.1 1425.3" fill="none" stroke="#db36df" stroke-width="4.6" stroke-linejoin="round"/>
<path d="M134.06 1702.2 L136.18 1702.2 L138.29 1702.2 L140.41 1702.2 L142.52 1702.2 L144.64 1702.2 L146.76 1702.2 L148.87 1702.2 L150.99 1702.2 L153.1 1702.2 L155.22 1702.2 L157.34 1702.2 L159.45 1702.2 L161.57 1702.2 L163.68 1702.2 L165.8 1702.2 L167.92 1702.2 L170.03 1702.2 L172.15 1702.2 L174.26 1702.2 L176.38 1702.2 L178.5 1702.2 L180.61 1702.2 L182.73 1702.2 L184.84 1702.2 L186.96 1702.2 L189.08 1702.2 L191.19 1702.2 L193.31 1702.2 L195.42 1702.2 L197.54 1702.2 L199.66 1702.2 L201.77 1702.2 L203.89 1702.2 L206 1702.2 L208.12 1702.2 L210.24 1702.2 L212.35 1702.2 L214.47 1702.2 L216.58 1702.2 L218.7 1702.2 L220.82 1702.2 L222.93 1702.2 L225.05 1702.2 L227.16 1702.2 L229.28 1702.2 L231.4 1702.2 L233.51 1702.2 L235.63 1702.2 L237.74 1702.2 L239.86 1702.2 L241.98 1702.2 L244.09 1702.2 L246.21 1702.2 L248.32 1702.2 L250.44 1688.55 L252.56 1679.44 L254.67 1665.79 L256.79 1652.14 L258.9 1624.83 L261.02 1602.07 L263.14 1579.32 L265.25 1588.42 L267.37 1574.77 L269.48 1561.11 L271.6 1565.66 L273.72 1556.56 L275.83 1574.77 L277.95 1552.01 L280.06 1556.56 L282.18 1579.32 L284.3 1561.11 L286.41 1588.42 L288.53 1579.32 L290.64 1592.97 L292.76 1597.52 L294.88 1579.32 L296.99 1579.32 L299.11 1592.97 L301.22 1592.97 L303.34 1606.62 L305.46 1583.87 L307.57 1579.32 L309.69 1597.52 L311.8 1615.73 L313.92 1602.07 L316.04 1602.07 L318.15 1588.42 L320.27 1611.18 L322.38 1615.73 L324.5 1606.62 L326.62 1606.62 L328.73 1597.52 L330.85 1588.42 L332.96 1611.18 L335.08 1633.93 L337.2 1611.18 L339.31 1611.18 L341.43 1597.52 L343.54 1629.38 L345.66 1606.62 L347.78 1597.52 L349.89 1602.07 L352.01 1592.97 L354.12 1592.97 L356.24 1592.97 L358.36 1579.32 L360.47 1574.77 L362.59 1574.77 L364.7 1583.87 L366.82 1592.97 L368.94 1588.42 L371.05 1592.97 L373.17 1606.62 L375.28 1597.52 L377.4 1583.87 L379.52 1597.52 L381.63 1611.18 L383.75 1592.97 L385.86 1602.07 L387.98 1615.73 L390.1 1606.62 L392.21 1615.73 L394.33 1597.52 L396.44 1602.07 L398.56 1597.52 L400.68 1579.32 L402.79 1574.77 L404.91 1588.42 L407.02 1620.28 L409.14 1606.62 L411.26 1615.73 L413.37 1592.97 L415.49 1579.32 L417.6 1583.87 L419.72 1588.42 L421.84 1592.97 L423.95 1592.97 L426.07 1606.62 L428.18 1597.52 L430.3 1606.62 L432.42 1624.83 L434.53 1611.18 L436.65 1592.97 L438.76 1606.62 L440.88 1629.38 L443 1602.07 L445.11 1606.62 L447.23 1602.07 L449.34 1615.73 L451.46 1615.73 L453.58 1602.07 L455.69 1629.38 L457.81 1620.28 L459.92 1624.83 L462.04 1638.48 L464.16 1629.38 L466.27 1620.28 L468.39 1638.48 L470.5 1620.28 L472.62 1638.48 L474.74 1620.28 L476.85 1620.28 L478.97 1624.83 L481.08 1638.48 L483.2 1647.59 L485.32 1665.79 L487.43 1647.59 L489.55 1643.03 L491.66 1633.93 L493.78 1629.38 L495.9 1638.48 L498.01 1647.59 L500.13 1633.93 L502.24 1643.03 L504.36 1647.59 L506.48 1661.24 L508.59 1638.48 L510.71 1652.14 L512.82 1620.28 L514.94 1643.03 L517.06 1647.59 L519.17 1643.03 L521.29 1652.14 L523.4 1661.24 L525.52 1665.79 L527.64 1661.24 L529.75 1647.59 L531.87 1624.83 L533.98 1620.28 L536.1 1624.83" fill="none" stroke="#9a9a9a" stroke-width="3.6" stroke-linejoin="round"/>
<path d="M134.06 1702.2 L217.11 1702.2 L219.23 1683.54 L222.93 1558.52 L228.75 1521.2 L233.51 1515.6 L249.38 1515.6 L251.5 1524.93 L255.2 1543.59 L259.96 1595.84 L263.14 1651.82 L267.9 1674.21 L272.66 1692.87 L275.83 1702.2 L536.1 1702.2" fill="none" stroke="#f5e23a" stroke-width="3.2" stroke-linejoin="round"/>
<path d="M218.7 1699.96 L232.45 1699.96" fill="none" stroke="#27ea27" stroke-width="3.3" stroke-linejoin="round"/>
<path d="M210.24 1688.55 L216.58 1688.55 L216.58 1697.65 L219.55 1697.65 L219.55 1693.1 L221.03 1693.1 L221.03 1697.65 L223.36 1697.65 L223.36 1693.1 L225.89 1693.1 L225.89 1697.65 L229.07 1697.65 L229.07 1693.1 L230.34 1693.1 L230.34 1697.65 L238.59 1697.65 L238.59 1693.1 L241.34 1693.1 L241.34 1697.65 L243.46 1697.65 L243.46 1693.1 L244.94 1693.1 L244.94 1697.65 L254.67 1697.65 L254.67 1688.55 L256.79 1688.55 L256.79 1697.65 L257.42 1697.65 L257.42 1693.1 L260.6 1693.1 L260.6 1697.65 L266.31 1697.65 L266.31 1693.1 L273.08 1693.1 L273.08 1697.65 L278.58 1697.65 L278.58 1693.1 L281.12 1693.1 L281.12 1702.2 L282.39 1702.2 L282.39 1697.65 L290.43 1697.65 L290.43 1693.1 L291.7 1693.1 L291.7 1697.65 L295.72 1697.65 L295.72 1693.1 L298.05 1693.1 L298.05 1697.65 L300.59 1697.65 L300.59 1693.1 L303.55 1693.1 L303.55 1697.65 L314.13 1697.65 L314.13 1693.1 L314.98 1693.1 L314.98 1702.2 L327.67 1702.2 L327.67 1697.65 L336.14 1697.65 L336.14 1702.2 L344.6 1702.2 L344.6 1697.65 L346.08 1697.65 L346.08 1693.1 L348.83 1693.1 L348.83 1697.65 L350.74 1697.65 L350.74 1693.1 L353.07 1693.1 L353.07 1697.65 L358.36 1697.65 L358.36 1693.1 L360.47 1693.1 L360.47 1697.65 L364.7 1697.65 L364.7 1693.1 L367.67 1693.1 L367.67 1697.65 L376.77 1697.65 L376.77 1693.1 L379.52 1693.1 L379.52 1697.65 L382.27 1697.65 L382.27 1693.1 L382.69 1693.1 L382.69 1702.2 L387.98 1702.2 L387.98 1697.65 L390.1 1697.65 L390.1 1702.2 L399.62 1702.2 L399.62 1697.65 L403.85 1697.65 L403.85 1702.2 L440.88 1702.2 L440.88 1693.1 L442.78 1693.1 L442.78 1702.2 L443.84 1702.2 L443.84 1697.65 L455.27 1697.65 L455.27 1693.1 L457.6 1693.1 L457.6 1697.65 L461.83 1697.65 L461.83 1693.1 L463.31 1693.1 L463.31 1697.65 L470.72 1697.65 L470.72 1693.1 L472.83 1693.1 L472.83 1697.65 L476.01 1697.65 L476.01 1702.2 L477.28 1702.2 L477.28 1697.65 L480.03 1697.65 L480.03 1693.1 L482.35 1693.1 L482.35 1697.65 L487.22 1697.65 L487.22 1702.2 L489.34 1702.2 L489.34 1693.1 L490.82 1693.1 L490.82 1697.65 L495.68 1697.65 L495.68 1702.2 L499.49 1702.2 L499.49 1693.1 L501.4 1693.1 L501.4 1697.65 L504.99 1697.65 L504.99 1693.1 L509.23 1693.1 L509.23 1702.2 L511.98 1702.2 L511.98 1697.65 L514.09 1697.65 L514.09 1702.2 L516.63 1702.2 L516.63 1693.1 L519.17 1693.1 L519.17 1702.2 L521.5 1702.2 L521.5 1693.1 L523.4 1693.1 L523.4 1702.2 L524.67 1702.2 L524.67 1697.65 L529.75 1697.65 L529.75 1702.2 L533.98 1702.2 L533.98 1697.65 L536.1 1697.65 L536.1 1702.2 L536.1 1702.2" fill="none" stroke="#0a0ae6" stroke-width="3.5" stroke-linejoin="round"/>
<path d="M134.06 1515.6 L216.27 1515.6 L218.7 1579.04 L222.3 1661.15 L226.11 1668.61 L229.28 1692.87 L231.4 1702.2 L536.1 1702.2" fill="none" stroke="#db36df" stroke-width="4.6" stroke-linejoin="round"/>
<rect x="145.7" y="1761.3" width="231.7" height="23.4" fill="#f8c2c2" stroke="#d0191b" stroke-width="2"/>
<line x1="150.9" y1="1785.7" x2="156.7" y2="1760.3" stroke="#fff" stroke-width="3.2"/>
<text x="264" y="1781.7" font-size="25" fill="#111">20-s light</text>
<path d="M134.06 1977.7 L414.43 1977.7 L414.43 1791.1 L422.37 1791.1 L422.37 1977.7 L423.42 1977.7 L423.42 1791.1 L428.71 1791.1 L428.71 1977.7 L429.77 1977.7 L429.77 1791.1 L436.12 1791.1 L436.12 1977.7 L437.18 1977.7 L437.18 1791.1 L440.35 1791.1 L440.35 1977.7 L441.41 1977.7 L441.41 1791.1 L447.76 1791.1 L447.76 1977.7 L448.81 1977.7 L448.81 1791.1 L453.05 1791.1 L453.05 1977.7 L454.11 1977.7 L454.11 1791.1 L459.4 1791.1 L459.4 1977.7 L460.45 1977.7 L460.45 1791.1 L465.74 1791.1 L465.74 1977.7 L466.8 1977.7 L466.8 1791.1 L475.79 1791.1 L475.79 1977.7 L489.55 1977.7 L489.55 1791.1 L501.72 1791.1 L501.72 1977.7 L502.77 1977.7 L502.77 1791.1 L513.35 1791.1 L513.35 1977.7 L514.41 1977.7 L514.41 1791.1 L522.88 1791.1 L522.88 1977.7 L523.93 1977.7 L523.93 1791.1 L529.22 1791.1 L529.22 1977.7 L530.28 1977.7 L530.28 1791.1 L535.04 1791.1 L535.04 1794.83" fill="none" stroke="#9a9a9a" stroke-width="3.6" stroke-linejoin="round"/>
<path d="M134.06 1977.7 L377.4 1977.7 L377.4 1791.1 L414.43 1791.1 L414.43 1977.7 L536.1 1977.7" fill="none" stroke="#f5e23a" stroke-width="3.2" stroke-linejoin="round"/>
<path d="M134.06 1791.1 L377.93 1791.1 L377.93 1977.7 L536.1 1977.7" fill="none" stroke="#db36df" stroke-width="4.6" stroke-linejoin="round"/>
<line x1="732.26" y1="1238.3" x2="732.26" y2="1425.9" stroke="#333" stroke-width="1.3"/>
<line x1="723.66" y1="1238.8" x2="732.26" y2="1238.8" stroke="#333" stroke-width="1.3"/>
<text x="717.26" y="1247.1" font-size="20" text-anchor="end" fill="#111">1</text>
<line x1="723.66" y1="1332.1" x2="732.26" y2="1332.1" stroke="#333" stroke-width="1.3"/>
<text x="717.06" y="1340.4" font-size="20" text-anchor="end" fill="#111">0.5</text>
<line x1="723.66" y1="1425.4" x2="732.26" y2="1425.4" stroke="#333" stroke-width="1.3"/>
<text x="717.06" y="1433.7" font-size="20" text-anchor="end" fill="#111">0</text>
<line x1="764" y1="1425.4" x2="764" y2="1435" stroke="#333" stroke-width="1.3"/>
<text x="764" y="1456.9" font-size="20" text-anchor="middle" fill="#111">0</text>
<line x1="816.9" y1="1425.4" x2="816.9" y2="1435" stroke="#333" stroke-width="1.3"/>
<line x1="869.8" y1="1425.4" x2="869.8" y2="1435" stroke="#333" stroke-width="1.3"/>
<text x="869.8" y="1456.9" font-size="20" text-anchor="middle" fill="#111">10</text>
<line x1="922.7" y1="1425.4" x2="922.7" y2="1435" stroke="#333" stroke-width="1.3"/>
<line x1="975.6" y1="1425.4" x2="975.6" y2="1435" stroke="#333" stroke-width="1.3"/>
<text x="975.6" y="1456.9" font-size="20" text-anchor="middle" fill="#111">20</text>
<line x1="1028.5" y1="1425.4" x2="1028.5" y2="1435" stroke="#333" stroke-width="1.3"/>
<line x1="1081.4" y1="1425.4" x2="1081.4" y2="1435" stroke="#333" stroke-width="1.3"/>
<text x="1081.4" y="1456.9" font-size="20" text-anchor="middle" fill="#111">30</text>
<line x1="1134.3" y1="1425.4" x2="1134.3" y2="1435" stroke="#333" stroke-width="1.3"/>
<text x="676.96" y="1332.6" font-size="25" text-anchor="middle" fill="#111" transform="rotate(-90 676.96 1332.6)">Fraction (n = 9)</text>
<rect x="743.9" y="1209" width="46.55" height="23.4" fill="#f8c2c2" stroke="#d0191b" stroke-width="2"/>
<line x1="749.1" y1="1233.4" x2="754.9" y2="1208" stroke="#fff" stroke-width="3.2"/>
<text x="858.6" y="1229.4" font-size="25" fill="#111">2.5-s light</text>
<line x1="732.26" y1="1514.8" x2="732.26" y2="1702.4" stroke="#333" stroke-width="1.3"/>
<line x1="723.66" y1="1515.3" x2="732.26" y2="1515.3" stroke="#333" stroke-width="1.3"/>
<text x="717.26" y="1523.6" font-size="20" text-anchor="end" fill="#111">1</text>
<line x1="723.66" y1="1608.6" x2="732.26" y2="1608.6" stroke="#333" stroke-width="1.3"/>
<text x="717.06" y="1616.9" font-size="20" text-anchor="end" fill="#111">0.5</text>
<line x1="723.66" y1="1701.9" x2="732.26" y2="1701.9" stroke="#333" stroke-width="1.3"/>
<text x="717.06" y="1710.2" font-size="20" text-anchor="end" fill="#111">0</text>
<line x1="764" y1="1701.9" x2="764" y2="1711.5" stroke="#333" stroke-width="1.3"/>
<text x="764" y="1733.4" font-size="20" text-anchor="middle" fill="#111">0</text>
<line x1="816.9" y1="1701.9" x2="816.9" y2="1711.5" stroke="#333" stroke-width="1.3"/>
<line x1="869.8" y1="1701.9" x2="869.8" y2="1711.5" stroke="#333" stroke-width="1.3"/>
<text x="869.8" y="1733.4" font-size="20" text-anchor="middle" fill="#111">10</text>
<line x1="922.7" y1="1701.9" x2="922.7" y2="1711.5" stroke="#333" stroke-width="1.3"/>
<line x1="975.6" y1="1701.9" x2="975.6" y2="1711.5" stroke="#333" stroke-width="1.3"/>
<text x="975.6" y="1733.4" font-size="20" text-anchor="middle" fill="#111">20</text>
<line x1="1028.5" y1="1701.9" x2="1028.5" y2="1711.5" stroke="#333" stroke-width="1.3"/>
<line x1="1081.4" y1="1701.9" x2="1081.4" y2="1711.5" stroke="#333" stroke-width="1.3"/>
<text x="1081.4" y="1733.4" font-size="20" text-anchor="middle" fill="#111">30</text>
<line x1="1134.3" y1="1701.9" x2="1134.3" y2="1711.5" stroke="#333" stroke-width="1.3"/>
<text x="676.96" y="1609.1" font-size="25" text-anchor="middle" fill="#111" transform="rotate(-90 676.96 1609.1)">Fraction (n = 39)</text>
<rect x="743.9" y="1485.5" width="73" height="23.4" fill="#f8c2c2" stroke="#d0191b" stroke-width="2"/>
<line x1="749.1" y1="1509.9" x2="754.9" y2="1484.5" stroke="#fff" stroke-width="3.2"/>
<text x="869.2" y="1505.9" font-size="25" fill="#111">5-s light</text>
<line x1="732.26" y1="1790.8" x2="732.26" y2="1978.4" stroke="#333" stroke-width="1.3"/>
<line x1="723.66" y1="1791.3" x2="732.26" y2="1791.3" stroke="#333" stroke-width="1.3"/>
<text x="717.26" y="1799.6" font-size="20" text-anchor="end" fill="#111">1</text>
<line x1="723.66" y1="1884.6" x2="732.26" y2="1884.6" stroke="#333" stroke-width="1.3"/>
<text x="717.06" y="1892.9" font-size="20" text-anchor="end" fill="#111">0.5</text>
<line x1="723.66" y1="1977.9" x2="732.26" y2="1977.9" stroke="#333" stroke-width="1.3"/>
<text x="717.06" y="1986.2" font-size="20" text-anchor="end" fill="#111">0</text>
<line x1="764" y1="1977.9" x2="764" y2="1987.5" stroke="#333" stroke-width="1.3"/>
<text x="764" y="2009.4" font-size="20" text-anchor="middle" fill="#111">0</text>
<line x1="816.9" y1="1977.9" x2="816.9" y2="1987.5" stroke="#333" stroke-width="1.3"/>
<line x1="869.8" y1="1977.9" x2="869.8" y2="1987.5" stroke="#333" stroke-width="1.3"/>
<text x="869.8" y="2009.4" font-size="20" text-anchor="middle" fill="#111">10</text>
<line x1="922.7" y1="1977.9" x2="922.7" y2="1987.5" stroke="#333" stroke-width="1.3"/>
<line x1="975.6" y1="1977.9" x2="975.6" y2="1987.5" stroke="#333" stroke-width="1.3"/>
<text x="975.6" y="2009.4" font-size="20" text-anchor="middle" fill="#111">20</text>
<line x1="1028.5" y1="1977.9" x2="1028.5" y2="1987.5" stroke="#333" stroke-width="1.3"/>
<line x1="1081.4" y1="1977.9" x2="1081.4" y2="1987.5" stroke="#333" stroke-width="1.3"/>
<text x="1081.4" y="2009.4" font-size="20" text-anchor="middle" fill="#111">30</text>
<line x1="1134.3" y1="1977.9" x2="1134.3" y2="1987.5" stroke="#333" stroke-width="1.3"/>
<text x="676.96" y="1885.1" font-size="25" text-anchor="middle" fill="#111" transform="rotate(-90 676.96 1885.1)">Fraction (n = 68)</text>
<text x="759.7" y="2039.7" font-size="25" fill="#111">Time after egg expulsion (s)</text>
<path d="M732.26 1425.4 L767.17 1425.4 L767.17 1404.67 L772.46 1404.67 L772.46 1383.93 L774.05 1383.93 L774.05 1425.4 L788.33 1425.4 L788.33 1383.93 L791.51 1383.93 L791.51 1425.4 L803.15 1425.4 L803.15 1404.67 L805.26 1404.67 L805.26 1425.4 L837 1425.4 L837 1383.93 L840.18 1383.93 L840.18 1425.4 L848.64 1425.4 L848.64 1342.47 L852.87 1342.47 L852.87 1383.93 L858.16 1383.93 L858.16 1404.67 L861.34 1404.67 L861.34 1425.4 L1006.28 1425.4 L1006.28 1404.67 L1016.86 1404.67 L1016.86 1425.4 L1134.3 1425.4" fill="none" stroke="#f5e23a" stroke-width="3.2" stroke-linejoin="round"/>
<path d="M788.33 1425.4 L789.39 1425.4 L789.39 1404.67 L791.51 1404.67 L791.51 1425.4 L801.03 1425.4 L801.03 1404.67 L804.2 1404.67 L804.2 1425.4 L815.84 1425.4 L815.84 1383.93 L820.07 1383.93 L820.07 1404.67 L823.25 1404.67 L823.25 1383.93 L825.36 1383.93 L825.36 1404.67 L829.6 1404.67 L829.6 1425.4 L832.77 1425.4 L832.77 1404.67 L835.94 1404.67 L835.94 1425.4 L840.18 1425.4 L840.18 1404.67 L842.29 1404.67 L842.29 1425.4 L890.96 1425.4 L890.96 1404.67 L893.08 1404.67 L893.08 1425.4 L975.6 1425.4 L975.6 1404.67 L978.77 1404.67 L978.77 1425.4 L1007.34 1425.4 L1007.34 1383.93 L1010.51 1383.93 L1010.51 1425.4 L1016.86 1425.4 L1016.86 1363.2 L1020.04 1363.2 L1020.04 1404.67 L1024.27 1404.67 L1024.27 1363.2 L1027.44 1363.2 L1027.44 1404.67 L1030.62 1404.67 L1030.62 1363.2 L1034.85 1363.2 L1034.85 1383.93 L1042.25 1383.93 L1042.25 1342.47 L1051.78 1342.47 L1051.78 1363.2 L1057.07 1363.2 L1057.07 1383.93 L1059.18 1383.93 L1059.18 1363.2 L1063.41 1363.2 L1063.41 1383.93 L1065.53 1383.93 L1065.53 1363.2 L1069.76 1363.2 L1069.76 1404.67 L1076.11 1404.67 L1076.11 1383.93 L1079.28 1383.93 L1079.28 1404.67 L1081.4 1404.67 L1081.4 1383.93 L1134.3 1383.93 L1134.3 1383.93 L1134.3 1383.93" fill="none" stroke="#9a9a9a" stroke-width="3.6" stroke-linejoin="round"/>
<path d="M759.24 1425.4 L759.87 1425.4 L759.87 1404.67 L765.69 1404.67 L765.69 1383.93 L769.29 1383.93 L769.29 1363.2 L773.52 1363.2 L773.52 1321.73 L778.18 1321.73 L778.18 1342.47 L781.77 1342.47 L781.77 1321.73 L785.48 1321.73 L785.48 1342.47 L788.33 1342.47 L788.33 1321.73 L794.26 1321.73 L794.26 1342.47 L797.86 1342.47 L797.86 1363.2 L803.67 1363.2 L803.67 1321.73 L809.49 1321.73 L809.49 1342.47 L810.55 1342.47 L810.55 1363.2 L817.53 1363.2 L817.53 1342.47 L822.19 1342.47 L822.19 1363.2 L831.71 1363.2 L831.71 1363.2 L834.89 1363.2 L834.89 1383.93 L846.52 1383.93 L846.52 1363.2 L848.32 1363.2 L848.32 1383.93 L858.16 1383.93 L858.16 1404.67 L860.76 1404.67 L860.76 1383.93 L862.65 1383.93 L862.65 1404.67 L864.39 1404.67 L864.39 1404.67 L866.54 1404.67 L866.54 1404.67 L869.66 1404.67 L869.66 1383.93 L872.81 1383.93 L872.81 1383.93 L875.79 1383.93 L875.79 1404.67 L879.58 1404.67 L879.58 1383.93 L882.9 1383.93 L882.9 1383.93 L886.94 1383.93 L886.94 1383.93 L890.96 1383.93 L890.96 1404.67 L895.24 1404.67 L895.24 1404.67 L897.04 1404.67 L897.04 1383.93 L898.93 1383.93 L898.93 1404.67 L901.39 1404.67 L901.39 1383.93 L904.5 1383.93 L904.5 1425.4 L907.41 1425.4 L907.41 1404.67 L908.83 1404.67 L908.83 1404.67 L910.12 1404.67 L910.12 1404.67 L912.66 1404.67 L912.66 1404.67 L914.21 1404.67 L914.21 1404.67 L918.62 1404.67 L918.62 1404.67 L921.51 1404.67 L921.51 1425.4 L924.03 1425.4 L924.03 1404.67 L928.62 1404.67 L928.62 1383.93 L930.45 1383.93 L930.45 1404.67 L933.8 1404.67 L933.8 1404.67 L938.37 1404.67 L938.37 1383.93 L940.25 1383.93 L940.25 1425.4 L941.6 1425.4 L941.6 1404.67 L945.26 1404.67 L945.26 1404.67 L946.81 1404.67 L946.81 1404.67 L950.29 1404.67 L950.29 1404.67 L952.64 1404.67 L952.64 1425.4 L955.24 1425.4 L955.24 1404.67 L958.34 1404.67 L958.34 1404.67 L962.75 1404.67 L962.75 1425.4 L966.25 1425.4 L966.25 1404.67 L968.42 1404.67 L968.42 1404.67 L972.57 1404.67 L972.57 1404.67 L975.08 1404.67 L975.08 1383.93 L978.01 1383.93 L978.01 1425.4 L979.74 1425.4 L979.74 1383.93 L983.1 1383.93 L983.1 1383.93 L984.89 1383.93 L984.89 1404.67 L986.6 1404.67 L986.6 1425.4 L988.37 1425.4 L988.37 1404.67 L993.1 1404.67 L993.1 1404.67 L994.88 1404.67 L994.88 1404.67 L999.22 1404.67 L999.22 1404.67 L1003.18 1404.67 L1003.18 1404.67 L1007.4 1404.67 L1007.4 1425.4 L1011.67 1425.4 L1011.67 1404.67 L1013.59 1404.67 L1013.59 1425.4 L1016.61 1425.4 L1016.61 1425.4 L1019.92 1425.4 L1019.92 1425.4 L1022.37 1425.4 L1022.37 1404.67 L1025.03 1404.67 L1025.03 1383.93 L1029.17 1383.93 L1029.17 1404.67 L1031.79 1404.67 L1031.79 1404.67 L1034.93 1404.67 L1034.93 1404.67 L1039.27 1404.67 L1039.27 1404.67 L1043.06 1404.67 L1043.06 1404.67 L1047.02 1404.67 L1047.02 1404.67 L1049.37 1404.67 L1049.37 1383.93 L1051.43 1383.93 L1051.43 1383.93 L1053.79 1383.93 L1053.79 1383.93 L1057.57 1383.93 L1057.57 1404.67 L1061.51 1404.67 L1061.51 1383.93 L1065.13 1383.93 L1065.13 1404.67 L1067.74 1404.67 L1067.74 1404.67 L1071.64 1404.67 L1071.64 1383.93 L1073.19 1383.93 L1073.19 1383.93 L1075.98 1383.93 L1075.98 1383.93 L1080.62 1383.93 L1080.62 1404.67 L1082.13 1404.67 L1082.13 1404.67 L1086.57 1404.67 L1086.57 1404.67 L1090.59 1404.67 L1090.59 1404.67 L1092.3 1404.67 L1092.3 1404.67 L1095.08 1404.67 L1095.08 1404.67 L1097.78 1404.67 L1097.78 1383.93 L1101.93 1383.93 L1101.93 1404.67 L1104.19 1404.67 L1104.19 1383.93 L1107.82 1383.93 L1107.82 1383.93 L1111.2 1383.93 L1111.2 1383.93 L1115.92 1383.93 L1115.92 1383.93 L1119.69 1383.93 L1119.69 1404.67 L1122.28 1404.67 L1122.28 1404.67 L1124.76 1404.67 L1124.76 1383.93 L1127.27 1383.93 L1127.27 1404.67 L1131.9 1404.67 L1131.9 1404.67 L1134.3 1404.67" fill="none" stroke="#27ea27" stroke-width="3.3" stroke-linejoin="round"/>
<path d="M767.91 1425.4 L853.93 1425.4 L853.93 1404.67 L860.28 1404.67 L860.28 1425.4 L864.51 1425.4 L864.51 1425.4 L868.54 1425.4 L868.54 1404.67 L870.48 1404.67 L870.48 1425.4 L874.21 1425.4 L874.21 1404.67 L877.09 1404.67 L877.09 1425.4 L878.37 1425.4 L878.37 1404.67 L879.86 1404.67 L879.86 1404.67 L882.93 1404.67 L882.93 1425.4 L887.66 1425.4 L887.66 1404.67 L890.42 1404.67 L890.42 1425.4 L892.61 1425.4 L892.61 1425.4 L895.34 1425.4 L895.34 1425.4 L898.79 1425.4 L898.79 1425.4 L902.96 1425.4 L902.96 1425.4 L905.23 1425.4 L905.23 1425.4 L909.99 1425.4 L909.99 1425.4 L911.53 1425.4 L911.53 1404.67 L912.71 1404.67 L912.71 1404.67 L915.82 1404.67 L915.82 1425.4 L919.57 1425.4 L919.57 1425.4 L921.52 1425.4 L921.52 1404.67 L924.4 1404.67 L924.4 1404.67 L927.13 1404.67 L927.13 1404.67 L928.89 1404.67 L928.89 1425.4 L933.31 1425.4 L933.31 1425.4 L937 1425.4 L937 1404.67 L939.25 1404.67 L939.25 1425.4 L941.77 1425.4 L941.77 1404.67 L943.81 1404.67 L943.81 1425.4 L947.52 1425.4 L947.52 1404.67 L950.51 1404.67 L950.51 1425.4 L953.78 1425.4 L953.78 1425.4 L958.25 1425.4 L958.25 1425.4 L962.94 1425.4 L962.94 1404.67 L966.11 1404.67 L966.11 1404.67 L967.41 1404.67 L967.41 1425.4 L968.93 1425.4 L968.93 1425.4 L970.22 1425.4 L970.22 1425.4 L972.45 1425.4 L972.45 1404.67 L974.18 1404.67 L974.18 1404.67 L975.53 1404.67 L975.53 1425.4 L978.18 1425.4 L978.18 1404.67 L980.32 1404.67 L980.32 1425.4 L982.61 1425.4 L982.61 1425.4 L984.08 1425.4 L984.08 1425.4 L986.15 1425.4 L986.15 1404.67 L988.24 1404.67 L988.24 1404.67 L990.69 1404.67 L990.69 1404.67 L993.69 1404.67 L993.69 1425.4 L995.56 1425.4 L995.56 1404.67 L998.65 1404.67 L998.65 1404.67 L1001.28 1404.67 L1001.28 1404.67 L1002.61 1404.67 L1002.61 1404.67 L1004.82 1404.67 L1004.82 1404.67 L1006.96 1404.67 L1006.96 1404.67 L1008.77 1404.67 L1008.77 1425.4 L1010.85 1425.4 L1010.85 1425.4 L1015.5 1425.4 L1015.5 1404.67 L1018.19 1404.67 L1018.19 1425.4 L1022.29 1425.4 L1022.29 1404.67 L1024 1404.67 L1024 1425.4 L1025.78 1425.4 L1025.78 1425.4 L1028.87 1425.4 L1028.87 1425.4 L1030.95 1425.4 L1030.95 1425.4 L1034.98 1425.4 L1034.98 1425.4 L1039.71 1425.4 L1039.71 1425.4 L1043.54 1425.4 L1043.54 1425.4 L1047.92 1425.4 L1047.92 1425.4 L1049.75 1425.4 L1049.75 1425.4 L1051.6 1425.4 L1051.6 1404.67 L1053.19 1404.67 L1053.19 1425.4 L1056.5 1425.4 L1056.5 1404.67 L1059.57 1404.67 L1059.57 1404.67 L1064.86 1404.67 L1064.86 1404.67 L1070.15 1404.67 L1070.15 1404.67 L1071.23 1404.67 L1071.23 1404.67 L1073.47 1404.67 L1073.47 1404.67 L1075.57 1404.67 L1075.57 1404.67 L1080.86 1404.67 L1080.86 1404.67 L1086.15 1404.67 L1086.15 1404.67 L1091.44 1404.67 L1091.44 1425.4 L1092.85 1425.4 L1092.85 1404.67 L1095.35 1404.67 L1095.35 1425.4 L1098.94 1425.4 L1098.94 1425.4 L1103.59 1425.4 L1103.59 1404.67 L1105.22 1404.67 L1105.22 1404.67 L1106.6 1404.67 L1106.6 1425.4 L1110.53 1425.4 L1110.53 1425.4 L1114.38 1425.4 L1114.38 1404.67 L1116.96 1404.67 L1116.96 1425.4 L1118.83 1425.4 L1118.83 1404.67 L1120.01 1404.67 L1120.01 1404.67 L1121.61 1404.67 L1121.61 1425.4 L1123.21 1425.4 L1123.21 1404.67 L1126.27 1404.67 L1126.27 1425.4 L1128 1425.4 L1128 1425.4 L1131.46 1425.4 L1131.46 1404.67 L1134.3 1404.67" fill="none" stroke="#0a0ae6" stroke-width="3.5" stroke-linejoin="round"/>
<path d="M732.26 1238.8 L759.87 1238.8 L759.87 1259.53 L767.17 1259.53 L767.17 1280.27 L768.23 1280.27 L768.23 1301 L770.88 1301 L770.88 1321.73 L772.46 1321.73 L772.46 1342.47 L772.99 1342.47 L772.99 1363.2 L776.7 1363.2 L776.7 1383.93 L784.1 1383.93 L784.1 1404.67 L788.33 1404.67 L788.33 1425.4 L794.26 1425.4 L794.26 1404.67 L796.8 1404.67 L796.8 1363.2 L804.2 1363.2 L804.2 1404.67 L806.32 1404.67 L806.32 1363.2 L810.55 1363.2 L810.55 1383.93 L812.67 1383.93 L812.67 1363.2 L820.07 1363.2 L820.07 1383.93 L822.19 1383.93 L822.19 1363.2 L825.36 1363.2 L825.36 1342.47 L831.71 1342.47 L831.71 1321.73 L838.06 1321.73 L838.06 1363.2 L845.47 1363.2 L845.47 1404.67 L848.64 1404.67 L848.64 1425.4 L868.74 1425.4 L868.74 1383.93 L870.86 1383.93 L870.86 1404.67 L872.97 1404.67 L872.97 1425.4 L875.09 1425.4 L875.09 1404.67 L878.26 1404.67 L878.26 1425.4 L883.55 1425.4 L883.55 1404.67 L889.48 1404.67 L889.48 1383.93 L916.14 1383.93 L916.14 1363.2 L926.61 1363.2 L926.61 1383.93 L935.92 1383.93 L935.92 1404.67 L939.63 1404.67 L939.63 1383.93 L950.21 1383.93 L950.21 1404.67 L956.56 1404.67 L956.56 1425.4 L960.79 1425.4 L960.79 1404.67 L967.14 1404.67 L967.14 1383.93 L980.89 1383.93 L980.89 1363.2 L988.3 1363.2 L988.3 1383.93 L1000.99 1383.93 L1000.99 1404.67 L1005.22 1404.67 L1005.22 1363.2 L1008.93 1363.2 L1008.93 1383.93 L1014.75 1383.93 L1014.75 1404.67 L1024.27 1404.67 L1024.27 1425.4 L1028.5 1425.4 L1028.5 1404.67 L1036.96 1404.67 L1036.96 1425.4 L1039.08 1425.4 L1039.08 1404.67 L1043.31 1404.67 L1043.31 1425.4 L1045.43 1425.4 L1045.43 1404.67 L1058.12 1404.67 L1058.12 1425.4 L1060.24 1425.4 L1060.24 1404.67 L1075.05 1404.67 L1075.05 1425.4 L1079.81 1425.4 L1079.81 1404.67 L1086.69 1404.67 L1086.69 1383.93 L1095.15 1383.93 L1095.15 1404.67 L1097.27 1404.67 L1097.27 1383.93 L1100.44 1383.93 L1100.44 1404.67 L1105.73 1404.67 L1105.73 1425.4 L1107.85 1425.4 L1107.85 1383.93 L1117.37 1383.93 L1117.37 1404.67 L1119.49 1404.67 L1119.49 1383.93 L1125.84 1383.93 L1125.84 1404.67 L1127.95 1404.67 L1127.95 1383.93 L1134.3 1383.93" fill="none" stroke="#db36df" stroke-width="4.6" stroke-linejoin="round"/>
<path d="M732.26 1701.9 L734.38 1701.9 L736.49 1701.9 L738.61 1701.9 L740.72 1701.9 L742.84 1701.9 L744.96 1701.9 L747.07 1701.9 L749.19 1701.9 L751.3 1701.9 L753.42 1701.9 L755.54 1701.9 L757.65 1701.9 L759.77 1701.9 L761.88 1697.12 L764 1697.12 L766.12 1697.12 L768.23 1697.12 L770.35 1697.12 L772.46 1697.12 L774.58 1687.55 L776.7 1682.76 L778.81 1677.98 L780.93 1677.98 L783.04 1682.76 L785.16 1682.76 L787.28 1682.76 L789.39 1687.55 L791.51 1682.76 L793.62 1677.98 L795.74 1673.19 L797.86 1668.41 L799.97 1677.98 L802.09 1692.33 L804.2 1682.76 L806.32 1682.76 L808.44 1687.55 L810.55 1687.55 L812.67 1682.76 L814.78 1673.19 L816.9 1673.19 L819.02 1677.98 L821.13 1673.19 L823.25 1668.41 L825.36 1673.19 L827.48 1668.41 L829.6 1673.19 L831.71 1673.19 L833.83 1668.41 L835.94 1668.41 L838.06 1677.98 L840.18 1673.19 L842.29 1677.98 L844.41 1668.41 L846.52 1677.98 L848.64 1673.19 L850.76 1673.19 L852.87 1673.19 L854.99 1668.41 L857.1 1668.41 L859.22 1658.84 L861.34 1663.62 L863.45 1663.62 L865.57 1668.41 L867.68 1663.62 L869.8 1663.62 L871.92 1663.62 L874.03 1658.84 L876.15 1668.41 L878.26 1673.19 L880.38 1677.98 L882.5 1682.76 L884.61 1673.19 L886.73 1687.55 L888.84 1687.55 L890.96 1682.76 L893.08 1687.55 L895.19 1697.12 L897.31 1697.12 L899.42 1692.33 L901.54 1692.33 L903.66 1692.33 L905.77 1692.33 L907.89 1692.33 L910 1697.12 L912.12 1692.33 L914.24 1697.12 L916.35 1687.55 L918.47 1697.12 L920.58 1687.55 L922.7 1687.55 L924.82 1697.12 L926.93 1692.33 L929.05 1687.55 L931.16 1687.55 L933.28 1687.55 L935.4 1692.33 L937.51 1692.33 L939.63 1692.33 L941.74 1692.33 L943.86 1692.33 L945.98 1692.33 L948.09 1692.33 L950.21 1687.55 L952.32 1682.76 L954.44 1682.76 L956.56 1692.33 L958.67 1697.12 L960.79 1701.9 L962.9 1697.12 L965.02 1687.55 L967.14 1692.33 L969.25 1692.33 L971.37 1697.12 L973.48 1701.9 L975.6 1701.9 L977.72 1701.9 L979.83 1701.9 L981.95 1701.9 L984.06 1697.12 L986.18 1697.12 L988.3 1701.9 L990.41 1697.12 L992.53 1692.33 L994.64 1697.12 L996.76 1697.12 L998.88 1701.9 L1000.99 1701.9 L1003.11 1697.12 L1005.22 1697.12 L1007.34 1692.33 L1009.46 1687.55 L1011.57 1697.12 L1013.69 1701.9 L1015.8 1697.12 L1017.92 1697.12 L1020.04 1701.9 L1022.15 1701.9 L1024.27 1697.12 L1026.38 1701.9 L1028.5 1697.12 L1030.62 1692.33 L1032.73 1697.12 L1034.85 1697.12 L1036.96 1697.12 L1039.08 1692.33 L1041.2 1687.55 L1043.31 1692.33 L1045.43 1687.55 L1047.54 1692.33 L1049.66 1687.55 L1051.78 1687.55 L1053.89 1692.33 L1056.01 1701.9 L1058.12 1692.33 L1060.24 1692.33 L1062.36 1692.33 L1064.47 1687.55 L1066.59 1692.33 L1068.7 1692.33 L1070.82 1687.55 L1072.94 1687.55 L1075.05 1687.55 L1077.17 1682.76 L1079.28 1692.33 L1081.4 1692.33 L1083.52 1697.12 L1085.63 1697.12 L1087.75 1692.33 L1089.86 1692.33 L1091.98 1692.33 L1094.1 1692.33 L1096.21 1692.33 L1098.33 1701.9 L1100.44 1701.9 L1102.56 1697.12 L1104.68 1701.9 L1106.79 1701.9 L1108.91 1701.9 L1111.02 1701.9 L1113.14 1701.9 L1115.26 1701.9 L1117.37 1697.12 L1119.49 1697.12 L1121.6 1701.9 L1123.72 1701.9 L1125.84 1697.12 L1127.95 1701.9 L1130.07 1701.9 L1132.18 1701.9 L1134.3 1697.12" fill="none" stroke="#f5e23a" stroke-width="3.2" stroke-linejoin="round"/>
<path d="M816.9 1701.9 L819.02 1692.33 L821.13 1692.33 L823.25 1692.33 L825.36 1687.55 L827.48 1687.55 L829.6 1687.55 L831.71 1687.55 L833.83 1687.55 L835.94 1687.55 L838.06 1682.76 L840.18 1677.98 L842.29 1673.19 L844.41 1677.98 L846.52 1682.76 L848.64 1687.55 L850.76 1682.76 L852.87 1673.19 L854.99 1673.19 L857.1 1677.98 L859.22 1673.19 L861.34 1682.76 L863.45 1677.98 L865.57 1673.19 L867.68 1663.62 L869.8 1668.41 L871.92 1663.62 L874.03 1663.62 L876.15 1658.84 L878.26 1668.41 L880.38 1658.84 L882.5 1668.41 L884.61 1682.76 L886.73 1673.19 L888.84 1668.41 L890.96 1658.84 L893.08 1649.27 L895.19 1658.84 L897.31 1649.27 L899.42 1654.05 L901.54 1654.05 L903.66 1649.27 L905.77 1644.48 L907.89 1639.7 L910 1634.92 L912.12 1639.7 L914.24 1634.92 L916.35 1634.92 L918.47 1644.48 L920.58 1644.48 L922.7 1644.48 L924.82 1639.7 L926.93 1639.7 L929.05 1625.35 L931.16 1639.7 L933.28 1644.48 L935.4 1634.92 L937.51 1630.13 L939.63 1630.13 L941.74 1625.35 L943.86 1620.56 L945.98 1630.13 L948.09 1639.7 L950.21 1639.7 L952.32 1630.13 L954.44 1644.48 L956.56 1639.7 L958.67 1634.92 L960.79 1634.92 L962.9 1630.13 L965.02 1630.13 L967.14 1620.56 L969.25 1625.35 L971.37 1634.92 L973.48 1644.48 L975.6 1649.27 L977.72 1639.7 L979.83 1649.27 L981.95 1649.27 L984.06 1644.48 L986.18 1649.27 L988.3 1649.27 L990.41 1658.84 L992.53 1658.84 L994.64 1654.05 L996.76 1644.48 L998.88 1634.92 L1000.99 1639.7 L1003.11 1639.7 L1005.22 1639.7 L1007.34 1634.92 L1009.46 1630.13 L1011.57 1634.92 L1013.69 1644.48 L1015.8 1639.7 L1017.92 1639.7 L1020.04 1634.92 L1022.15 1639.7 L1024.27 1630.13 L1026.38 1644.48 L1028.5 1630.13 L1030.62 1634.92 L1032.73 1634.92 L1034.85 1639.7 L1036.96 1634.92 L1039.08 1620.56 L1041.2 1610.99 L1043.31 1615.78 L1045.43 1639.7 L1047.54 1630.13 L1049.66 1630.13 L1051.78 1634.92 L1053.89 1644.48 L1056.01 1644.48 L1058.12 1630.13 L1060.24 1644.48 L1062.36 1649.27 L1064.47 1639.7 L1066.59 1649.27 L1068.7 1654.05 L1070.82 1654.05 L1072.94 1663.62 L1075.05 1658.84 L1077.17 1663.62 L1079.28 1654.05 L1081.4 1654.05 L1083.52 1634.92 L1085.63 1639.7 L1087.75 1634.92 L1089.86 1649.27 L1091.98 1649.27 L1094.1 1644.48 L1096.21 1634.92 L1098.33 1649.27 L1100.44 1639.7 L1102.56 1639.7 L1104.68 1630.13 L1106.79 1634.92 L1108.91 1639.7 L1111.02 1649.27 L1113.14 1663.62 L1115.26 1658.84 L1117.37 1663.62 L1119.49 1649.27 L1121.6 1658.84 L1123.72 1654.05 L1125.84 1668.41 L1127.95 1663.62 L1130.07 1658.84 L1132.18 1654.05 L1134.3 1663.62" fill="none" stroke="#9a9a9a" stroke-width="3.6" stroke-linejoin="round"/>
<path d="M757.65 1701.9 L759.77 1697.12 L761.88 1692.33 L764 1687.55 L766.12 1687.55 L768.23 1687.55 L770.35 1687.55 L772.46 1673.19 L774.58 1654.05 L776.7 1649.27 L778.81 1644.48 L780.93 1634.92 L783.04 1644.48 L785.16 1644.48 L787.28 1644.48 L789.39 1634.92 L791.51 1630.13 L793.62 1639.7 L795.74 1634.92 L797.86 1630.13 L799.97 1639.7 L802.09 1639.7 L804.2 1634.92 L806.32 1644.48 L808.44 1649.27 L810.55 1644.48 L812.67 1644.48 L814.78 1639.7 L816.9 1625.35 L819.02 1630.13 L821.13 1630.13 L823.25 1639.7 L825.36 1634.92 L827.48 1639.7 L829.6 1630.13 L831.71 1625.35 L833.83 1644.48 L835.94 1649.27 L838.06 1654.05 L840.18 1658.84 L842.29 1663.62 L844.41 1668.41 L846.52 1658.84 L848.64 1663.62 L850.76 1668.41 L852.87 1668.41 L854.99 1658.84 L857.1 1654.05 L859.22 1658.84 L861.34 1663.62 L863.45 1673.19 L865.57 1673.19 L867.68 1673.19 L869.8 1663.62 L871.92 1663.62 L874.03 1668.41 L876.15 1668.41 L878.26 1668.41 L880.38 1668.41 L882.5 1687.55 L884.61 1682.76 L886.73 1682.76 L888.84 1673.19 L890.96 1677.98 L893.08 1677.98 L895.19 1677.98 L897.31 1673.19 L899.42 1673.19 L901.54 1673.19 L903.66 1668.41 L905.77 1673.19 L907.89 1673.19 L910 1677.98 L912.12 1677.98 L914.24 1663.62 L916.35 1673.19 L918.47 1673.19 L920.58 1677.98 L922.7 1682.76 L924.82 1697.12 L926.93 1682.76 L929.05 1687.55 L931.16 1692.33 L933.28 1682.76 L935.4 1697.12 L937.51 1692.33 L939.63 1692.33 L941.74 1701.9 L943.86 1692.33 L945.98 1692.33 L948.09 1692.33 L950.21 1692.33 L952.32 1687.55 L954.44 1673.19 L956.56 1687.55 L958.67 1682.76 L960.79 1687.55 L962.9 1687.55 L965.02 1697.12 L967.14 1697.12 L969.25 1697.12 L971.37 1687.55 L973.48 1682.76 L975.6 1682.76 L977.72 1677.98 L979.83 1692.33 L981.95 1677.98 L984.06 1682.76 L986.18 1682.76 L988.3 1682.76 L990.41 1682.76 L992.53 1682.76 L994.64 1697.12 L996.76 1682.76 L998.88 1682.76 L1000.99 1677.98 L1003.11 1682.76 L1005.22 1682.76 L1007.34 1692.33 L1009.46 1692.33 L1011.57 1701.9 L1013.69 1697.12 L1015.8 1682.76 L1017.92 1697.12 L1020.04 1697.12 L1022.15 1697.12 L1024.27 1687.55 L1026.38 1682.76 L1028.5 1682.76 L1030.62 1687.55 L1032.73 1687.55 L1034.85 1692.33 L1036.96 1692.33 L1039.08 1697.12 L1041.2 1692.33 L1043.31 1692.33 L1045.43 1697.12 L1047.54 1692.33 L1049.66 1692.33 L1051.78 1687.55 L1053.89 1697.12 L1056.01 1701.9 L1058.12 1697.12 L1060.24 1692.33 L1062.36 1692.33 L1064.47 1682.76 L1066.59 1692.33 L1068.7 1682.76 L1070.82 1682.76 L1072.94 1682.76 L1075.05 1687.55 L1077.17 1687.55 L1079.28 1692.33 L1081.4 1697.12 L1083.52 1697.12 L1085.63 1701.9 L1087.75 1701.9 L1089.86 1701.9 L1091.98 1701.9 L1094.1 1697.12 L1096.21 1687.55 L1098.33 1697.12 L1100.44 1701.9 L1102.56 1701.9 L1104.68 1701.9 L1106.79 1701.9 L1108.91 1701.9 L1111.02 1701.9 L1113.14 1697.12 L1115.26 1682.76 L1117.37 1697.12 L1119.49 1701.9 L1121.6 1701.9 L1123.72 1697.12 L1125.84 1687.55 L1127.95 1682.76 L1130.07 1692.33 L1132.18 1701.9 L1134.3 1697.12" fill="none" stroke="#27ea27" stroke-width="3.3" stroke-linejoin="round"/>
<path d="M761.88 1701.9 L764 1701.9 L766.12 1697.12 L768.23 1701.9 L770.35 1697.12 L772.46 1697.12 L774.58 1697.12 L776.7 1697.12 L778.81 1692.33 L780.93 1692.33 L783.04 1687.55 L785.16 1692.33 L787.28 1697.12 L789.39 1692.33 L791.51 1692.33 L793.62 1697.12 L795.74 1687.55 L797.86 1687.55 L799.97 1692.33 L802.09 1692.33 L804.2 1687.55 L806.32 1687.55 L808.44 1687.55 L810.55 1687.55 L812.67 1697.12 L814.78 1701.9 L816.9 1692.33 L819.02 1687.55 L821.13 1697.12 L823.25 1692.33 L825.36 1687.55 L827.48 1682.76 L829.6 1682.76 L831.71 1682.76 L833.83 1687.55 L835.94 1692.33 L838.06 1692.33 L840.18 1692.33 L842.29 1692.33 L844.41 1697.12 L846.52 1697.12 L848.64 1697.12 L850.76 1692.33 L852.87 1697.12 L854.99 1701.9 L857.1 1701.9 L859.22 1697.12 L861.34 1692.33 L863.45 1692.33 L865.57 1701.9 L867.68 1701.9 L869.8 1692.33 L871.92 1692.33 L874.03 1692.33 L876.15 1692.33 L878.26 1687.55 L880.38 1682.76 L882.5 1682.76 L884.61 1692.33 L886.73 1697.12 L888.84 1692.33 L890.96 1692.33 L893.08 1697.12 L895.19 1697.12 L897.31 1701.9 L899.42 1692.33 L901.54 1697.12 L903.66 1697.12 L905.77 1697.12 L907.89 1697.12 L910 1701.9 L912.12 1701.9 L914.24 1697.12 L916.35 1692.33 L918.47 1692.33 L920.58 1701.9 L922.7 1701.9 L924.82 1692.33 L926.93 1697.12 L929.05 1697.12 L931.16 1697.12 L933.28 1692.33 L935.4 1697.12 L937.51 1701.9 L939.63 1697.12 L941.74 1701.9 L943.86 1701.9 L945.98 1692.33 L948.09 1697.12 L950.21 1697.12 L952.32 1701.9 L954.44 1701.9 L956.56 1701.9 L958.67 1701.9 L960.79 1701.9 L962.9 1701.9 L965.02 1701.9 L967.14 1697.12 L969.25 1701.9 L971.37 1701.9 L973.48 1697.12 L975.6 1697.12 L977.72 1692.33 L979.83 1697.12 L981.95 1692.33 L984.06 1692.33 L986.18 1701.9 L988.3 1701.9 L990.41 1697.12 L992.53 1692.33 L994.64 1697.12 L996.76 1701.9 L998.88 1701.9 L1000.99 1701.9 L1003.11 1701.9 L1005.22 1692.33 L1007.34 1697.12 L1009.46 1697.12 L1011.57 1697.12 L1013.69 1697.12 L1015.8 1692.33 L1017.92 1687.55 L1020.04 1692.33 L1022.15 1692.33 L1024.27 1701.9 L1026.38 1701.9 L1028.5 1701.9 L1030.62 1697.12 L1032.73 1701.9 L1034.85 1701.9 L1036.96 1692.33 L1039.08 1692.33 L1041.2 1692.33 L1043.31 1697.12 L1045.43 1697.12 L1047.54 1701.9 L1049.66 1692.33 L1051.78 1697.12 L1053.89 1701.9 L1056.01 1701.9 L1058.12 1701.9 L1060.24 1692.33 L1062.36 1697.12 L1064.47 1697.12 L1066.59 1701.9 L1068.7 1697.12 L1070.82 1697.12 L1072.94 1697.12 L1075.05 1697.12 L1077.17 1697.12 L1079.28 1697.12 L1081.4 1692.33 L1083.52 1701.9 L1085.63 1701.9 L1087.75 1701.9 L1089.86 1697.12 L1091.98 1692.33 L1094.1 1697.12 L1096.21 1701.9 L1098.33 1701.9 L1100.44 1701.9 L1102.56 1697.12 L1104.68 1701.9 L1106.79 1697.12 L1108.91 1697.12 L1111.02 1697.12 L1113.14 1697.12 L1115.26 1701.9 L1117.37 1697.12 L1119.49 1697.12 L1121.6 1701.9 L1123.72 1701.9 L1125.84 1701.9 L1127.95 1701.9 L1130.07 1701.9 L1132.18 1701.9 L1134.3 1692.33" fill="none" stroke="#0a0ae6" stroke-width="3.5" stroke-linejoin="round"/>
<path d="M732.26 1515.3 L734.38 1515.3 L736.49 1515.3 L738.61 1515.3 L740.72 1515.3 L742.84 1515.3 L744.96 1515.3 L747.07 1515.3 L749.19 1515.3 L751.3 1515.3 L753.42 1515.3 L755.54 1520.08 L757.65 1524.87 L759.77 1529.65 L761.88 1534.44 L764 1539.22 L766.12 1548.79 L768.23 1563.15 L770.35 1563.15 L772.46 1572.72 L774.58 1587.07 L776.7 1596.64 L778.81 1591.85 L780.93 1587.07 L783.04 1591.85 L785.16 1610.99 L787.28 1610.99 L789.39 1610.99 L791.51 1615.78 L793.62 1625.35 L795.74 1634.92 L797.86 1630.13 L799.97 1634.92 L802.09 1649.27 L804.2 1644.48 L806.32 1654.05 L808.44 1654.05 L810.55 1663.62 L812.67 1668.41 L814.78 1673.19 L816.9 1668.41 L819.02 1677.98 L821.13 1682.76 L823.25 1673.19 L825.36 1663.62 L827.48 1663.62 L829.6 1658.84 L831.71 1649.27 L833.83 1649.27 L835.94 1634.92 L838.06 1625.35 L840.18 1615.78 L842.29 1615.78 L844.41 1620.56 L846.52 1620.56 L848.64 1630.13 L850.76 1620.56 L852.87 1625.35 L854.99 1630.13 L857.1 1634.92 L859.22 1634.92 L861.34 1630.13 L863.45 1630.13 L865.57 1625.35 L867.68 1620.56 L869.8 1625.35 L871.92 1625.35 L874.03 1630.13 L876.15 1639.7 L878.26 1644.48 L880.38 1649.27 L882.5 1644.48 L884.61 1658.84 L886.73 1654.05 L888.84 1668.41 L890.96 1673.19 L893.08 1668.41 L895.19 1668.41 L897.31 1658.84 L899.42 1658.84 L901.54 1649.27 L903.66 1654.05 L905.77 1649.27 L907.89 1649.27 L910 1649.27 L912.12 1663.62 L914.24 1658.84 L916.35 1658.84 L918.47 1663.62 L920.58 1658.84 L922.7 1654.05 L924.82 1658.84 L926.93 1663.62 L929.05 1673.19 L931.16 1668.41 L933.28 1673.19 L935.4 1673.19 L937.51 1677.98 L939.63 1682.76 L941.74 1677.98 L943.86 1682.76 L945.98 1692.33 L948.09 1682.76 L950.21 1677.98 L952.32 1677.98 L954.44 1687.55 L956.56 1687.55 L958.67 1682.76 L960.79 1677.98 L962.9 1682.76 L965.02 1677.98 L967.14 1677.98 L969.25 1682.76 L971.37 1682.76 L973.48 1682.76 L975.6 1682.76 L977.72 1673.19 L979.83 1677.98 L981.95 1668.41 L984.06 1673.19 L986.18 1673.19 L988.3 1668.41 L990.41 1663.62 L992.53 1668.41 L994.64 1663.62 L996.76 1663.62 L998.88 1668.41 L1000.99 1673.19 L1003.11 1677.98 L1005.22 1682.76 L1007.34 1673.19 L1009.46 1677.98 L1011.57 1673.19 L1013.69 1677.98 L1015.8 1668.41 L1017.92 1668.41 L1020.04 1663.62 L1022.15 1668.41 L1024.27 1663.62 L1026.38 1673.19 L1028.5 1677.98 L1030.62 1673.19 L1032.73 1668.41 L1034.85 1668.41 L1036.96 1673.19 L1039.08 1673.19 L1041.2 1677.98 L1043.31 1677.98 L1045.43 1673.19 L1047.54 1668.41 L1049.66 1668.41 L1051.78 1677.98 L1053.89 1682.76 L1056.01 1682.76 L1058.12 1682.76 L1060.24 1673.19 L1062.36 1668.41 L1064.47 1663.62 L1066.59 1673.19 L1068.7 1682.76 L1070.82 1682.76 L1072.94 1697.12 L1075.05 1692.33 L1077.17 1701.9 L1079.28 1697.12 L1081.4 1697.12 L1083.52 1687.55 L1085.63 1697.12 L1087.75 1697.12 L1089.86 1697.12 L1091.98 1697.12 L1094.1 1697.12 L1096.21 1701.9 L1098.33 1701.9 L1100.44 1701.9 L1102.56 1697.12 L1104.68 1692.33 L1106.79 1687.55 L1108.91 1687.55 L1111.02 1692.33 L1113.14 1692.33 L1115.26 1692.33 L1117.37 1697.12 L1119.49 1692.33 L1121.6 1692.33 L1123.72 1692.33 L1125.84 1682.76 L1127.95 1692.33 L1130.07 1692.33 L1132.18 1692.33 L1134.3 1697.12" fill="none" stroke="#db36df" stroke-width="4.6" stroke-linejoin="round"/>
<rect x="743.9" y="1761.5" width="231.7" height="23.4" fill="#f8c2c2" stroke="#d0191b" stroke-width="2"/>
<line x1="749.1" y1="1785.9" x2="754.9" y2="1760.5" stroke="#fff" stroke-width="3.2"/>
<text x="862.4" y="1781.9" font-size="25" fill="#111">20-s light</text>
<path d="M795.74 1977.9 L797.86 1977.9 L799.97 1977.9 L802.09 1975.16 L804.2 1975.16 L806.32 1975.16 L808.44 1972.41 L810.55 1972.41 L812.67 1969.67 L814.78 1969.67 L816.9 1975.16 L819.02 1975.16 L821.13 1975.16 L823.25 1975.16 L825.36 1966.92 L827.48 1966.92 L829.6 1958.69 L831.71 1964.18 L833.83 1961.44 L835.94 1964.18 L838.06 1969.67 L840.18 1966.92 L842.29 1961.44 L844.41 1958.69 L846.52 1964.18 L848.64 1958.69 L850.76 1955.95 L852.87 1961.44 L854.99 1961.44 L857.1 1955.95 L859.22 1966.92 L861.34 1961.44 L863.45 1969.67 L865.57 1964.18 L867.68 1955.95 L869.8 1961.44 L871.92 1958.69 L874.03 1966.92 L876.15 1966.92 L878.26 1964.18 L880.38 1958.69 L882.5 1961.44 L884.61 1958.69 L886.73 1958.69 L888.84 1961.44 L890.96 1961.44 L893.08 1958.69 L895.19 1961.44 L897.31 1955.95 L899.42 1958.69 L901.54 1955.95 L903.66 1953.2 L905.77 1955.95 L907.89 1955.95 L910 1953.2 L912.12 1958.69 L914.24 1950.46 L916.35 1953.2 L918.47 1950.46 L920.58 1966.92 L922.7 1955.95 L924.82 1958.69 L926.93 1964.18 L929.05 1961.44 L931.16 1955.95 L933.28 1966.92 L935.4 1958.69 L937.51 1966.92 L939.63 1958.69 L941.74 1958.69 L943.86 1955.95 L945.98 1955.95 L948.09 1964.18 L950.21 1964.18 L952.32 1961.44 L954.44 1964.18 L956.56 1964.18 L958.67 1969.67 L960.79 1964.18 L962.9 1953.2 L965.02 1955.95 L967.14 1958.69 L969.25 1966.92 L971.37 1969.67 L973.48 1964.18 L975.6 1966.92 L977.72 1964.18 L979.83 1969.67 L981.95 1969.67 L984.06 1966.92 L986.18 1969.67 L988.3 1969.67 L990.41 1966.92 L992.53 1966.92 L994.64 1975.16 L996.76 1966.92 L998.88 1958.69 L1000.99 1958.69 L1003.11 1961.44 L1005.22 1966.92 L1007.34 1966.92 L1009.46 1964.18 L1011.57 1955.95 L1013.69 1955.95 L1015.8 1955.95 L1017.92 1958.69 L1020.04 1953.2 L1022.15 1953.2 L1024.27 1942.23 L1026.38 1942.23 L1028.5 1944.97 L1030.62 1936.74 L1032.73 1931.25 L1034.85 1933.99 L1036.96 1942.23 L1039.08 1933.99 L1041.2 1936.74 L1043.31 1933.99 L1045.43 1939.48 L1047.54 1936.74 L1049.66 1936.74 L1051.78 1939.48 L1053.89 1939.48 L1056.01 1931.25 L1058.12 1933.99 L1060.24 1925.76 L1062.36 1925.76 L1064.47 1928.51 L1066.59 1925.76 L1068.7 1931.25 L1070.82 1931.25 L1072.94 1928.51 L1075.05 1928.51 L1077.17 1931.25 L1079.28 1928.51 L1081.4 1928.51 L1083.52 1923.02 L1085.63 1928.51 L1087.75 1920.27 L1089.86 1925.76 L1091.98 1923.02 L1094.1 1923.02 L1096.21 1931.25 L1098.33 1928.51 L1100.44 1920.27 L1102.56 1912.04 L1104.68 1914.79 L1106.79 1909.3 L1108.91 1906.55 L1111.02 1914.79 L1113.14 1912.04 L1115.26 1917.53 L1117.37 1925.76 L1119.49 1923.02 L1121.6 1925.76 L1123.72 1931.25 L1125.84 1936.74 L1127.95 1936.74 L1130.07 1933.99 L1132.18 1933.99 L1134.3 1936.74" fill="none" stroke="#9a9a9a" stroke-width="3.6" stroke-linejoin="round"/>
<path d="M761.88 1977.9 L764 1977.9 L766.12 1975.16 L768.23 1975.16 L770.35 1972.41 L772.46 1969.67 L774.58 1966.92 L776.7 1966.92 L778.81 1958.69 L780.93 1958.69 L783.04 1953.2 L785.16 1947.71 L787.28 1947.71 L789.39 1944.97 L791.51 1942.23 L793.62 1936.74 L795.74 1931.25 L797.86 1925.76 L799.97 1923.02 L802.09 1914.79 L804.2 1912.04 L806.32 1914.79 L808.44 1903.81 L810.55 1909.3 L812.67 1898.32 L814.78 1903.81 L816.9 1906.55 L819.02 1906.55 L821.13 1898.32 L823.25 1903.81 L825.36 1903.81 L827.48 1906.55 L829.6 1914.79 L831.71 1917.53 L833.83 1917.53 L835.94 1917.53 L838.06 1923.02 L840.18 1931.25 L842.29 1928.51 L844.41 1928.51 L846.52 1923.02 L848.64 1923.02 L850.76 1923.02 L852.87 1928.51 L854.99 1928.51 L857.1 1925.76 L859.22 1923.02 L861.34 1923.02 L863.45 1923.02 L865.57 1923.02 L867.68 1928.51 L869.8 1925.76 L871.92 1933.99 L874.03 1933.99 L876.15 1933.99 L878.26 1942.23 L880.38 1933.99 L882.5 1925.76 L884.61 1928.51 L886.73 1939.48 L888.84 1947.71 L890.96 1939.48 L893.08 1939.48 L895.19 1939.48 L897.31 1942.23 L899.42 1944.97 L901.54 1936.74 L903.66 1942.23 L905.77 1942.23 L907.89 1936.74 L910 1931.25 L912.12 1931.25 L914.24 1933.99 L916.35 1933.99 L918.47 1936.74 L920.58 1944.97 L922.7 1944.97 L924.82 1947.71 L926.93 1950.46 L929.05 1953.2 L931.16 1953.2 L933.28 1958.69 L935.4 1958.69 L937.51 1950.46 L939.63 1939.48 L941.74 1931.25 L943.86 1923.02 L945.98 1928.51 L948.09 1928.51 L950.21 1933.99 L952.32 1939.48 L954.44 1950.46 L956.56 1944.97 L958.67 1936.74 L960.79 1936.74 L962.9 1931.25 L965.02 1928.51 L967.14 1928.51 L969.25 1933.99 L971.37 1931.25 L973.48 1931.25 L975.6 1944.97 L977.72 1944.97 L979.83 1944.97 L981.95 1953.2 L984.06 1944.97 L986.18 1947.71 L988.3 1944.97 L990.41 1947.71 L992.53 1944.97 L994.64 1942.23 L996.76 1933.99 L998.88 1936.74 L1000.99 1933.99 L1003.11 1931.25 L1005.22 1933.99 L1007.34 1931.25 L1009.46 1936.74 L1011.57 1939.48 L1013.69 1936.74 L1015.8 1939.48 L1017.92 1939.48 L1020.04 1936.74 L1022.15 1936.74 L1024.27 1936.74 L1026.38 1939.48 L1028.5 1933.99 L1030.62 1936.74 L1032.73 1944.97 L1034.85 1936.74 L1036.96 1931.25 L1039.08 1931.25 L1041.2 1931.25 L1043.31 1936.74 L1045.43 1931.25 L1047.54 1933.99 L1049.66 1936.74 L1051.78 1931.25 L1053.89 1931.25 L1056.01 1936.74 L1058.12 1936.74 L1060.24 1933.99 L1062.36 1933.99 L1064.47 1933.99 L1066.59 1936.74 L1068.7 1944.97 L1070.82 1936.74 L1072.94 1933.99 L1075.05 1933.99 L1077.17 1942.23 L1079.28 1942.23 L1081.4 1933.99 L1083.52 1939.48 L1085.63 1942.23 L1087.75 1928.51 L1089.86 1928.51 L1091.98 1925.76 L1094.1 1928.51 L1096.21 1925.76 L1098.33 1931.25 L1100.44 1936.74 L1102.56 1942.23 L1104.68 1942.23 L1106.79 1936.74 L1108.91 1942.23 L1111.02 1944.97 L1113.14 1942.23 L1115.26 1942.23 L1117.37 1950.46 L1119.49 1950.46 L1121.6 1950.46 L1123.72 1955.95 L1125.84 1953.2 L1127.95 1955.95 L1130.07 1966.92 L1132.18 1964.18 L1134.3 1966.92" fill="none" stroke="#27ea27" stroke-width="3.3" stroke-linejoin="round"/>
<path d="M774.58 1977.9 L776.7 1977.9 L778.81 1977.9 L780.93 1977.9 L783.04 1975.16 L785.16 1977.9 L787.28 1977.9 L789.39 1977.9 L791.51 1977.9 L793.62 1977.9 L795.74 1972.41 L797.86 1964.18 L799.97 1969.67 L802.09 1975.16 L804.2 1975.16 L806.32 1975.16 L808.44 1975.16 L810.55 1972.41 L812.67 1972.41 L814.78 1969.67 L816.9 1975.16 L819.02 1975.16 L821.13 1975.16 L823.25 1969.67 L825.36 1969.67 L827.48 1969.67 L829.6 1972.41 L831.71 1969.67 L833.83 1972.41 L835.94 1975.16 L838.06 1975.16 L840.18 1972.41 L842.29 1969.67 L844.41 1975.16 L846.52 1977.9 L848.64 1972.41 L850.76 1972.41 L852.87 1969.67 L854.99 1966.92 L857.1 1969.67 L859.22 1969.67 L861.34 1969.67 L863.45 1972.41 L865.57 1977.9 L867.68 1972.41 L869.8 1969.67 L871.92 1972.41 L874.03 1972.41 L876.15 1972.41 L878.26 1969.67 L880.38 1966.92 L882.5 1966.92 L884.61 1969.67 L886.73 1966.92 L888.84 1975.16 L890.96 1977.9 L893.08 1977.9 L895.19 1977.9 L897.31 1975.16 L899.42 1975.16 L901.54 1975.16 L903.66 1972.41 L905.77 1975.16 L907.89 1977.9 L910 1975.16 L912.12 1972.41 L914.24 1969.67 L916.35 1966.92 L918.47 1969.67 L920.58 1966.92 L922.7 1966.92 L924.82 1966.92 L926.93 1964.18 L929.05 1961.44 L931.16 1966.92 L933.28 1966.92 L935.4 1966.92 L937.51 1961.44 L939.63 1966.92 L941.74 1966.92 L943.86 1964.18 L945.98 1961.44 L948.09 1964.18 L950.21 1964.18 L952.32 1961.44 L954.44 1961.44 L956.56 1964.18 L958.67 1961.44 L960.79 1961.44 L962.9 1966.92 L965.02 1966.92 L967.14 1964.18 L969.25 1966.92 L971.37 1966.92 L973.48 1972.41 L975.6 1975.16 L977.72 1969.67 L979.83 1969.67 L981.95 1972.41 L984.06 1972.41 L986.18 1969.67 L988.3 1977.9 L990.41 1977.9 L992.53 1977.9 L994.64 1977.9 L996.76 1977.9 L998.88 1975.16 L1000.99 1977.9 L1003.11 1977.9 L1005.22 1972.41 L1007.34 1975.16 L1009.46 1972.41 L1011.57 1972.41 L1013.69 1972.41 L1015.8 1969.67 L1017.92 1964.18 L1020.04 1964.18 L1022.15 1964.18 L1024.27 1966.92 L1026.38 1966.92 L1028.5 1969.67 L1030.62 1969.67 L1032.73 1969.67 L1034.85 1966.92 L1036.96 1966.92 L1039.08 1964.18 L1041.2 1958.69 L1043.31 1958.69 L1045.43 1958.69 L1047.54 1961.44 L1049.66 1966.92 L1051.78 1964.18 L1053.89 1964.18 L1056.01 1966.92 L1058.12 1966.92 L1060.24 1964.18 L1062.36 1964.18 L1064.47 1961.44 L1066.59 1961.44 L1068.7 1966.92 L1070.82 1958.69 L1072.94 1961.44 L1075.05 1958.69 L1077.17 1961.44 L1079.28 1961.44 L1081.4 1964.18 L1083.52 1966.92 L1085.63 1969.67 L1087.75 1969.67 L1089.86 1966.92 L1091.98 1964.18 L1094.1 1964.18 L1096.21 1966.92 L1098.33 1964.18 L1100.44 1966.92 L1102.56 1969.67 L1104.68 1969.67 L1106.79 1966.92 L1108.91 1969.67 L1111.02 1972.41 L1113.14 1972.41 L1115.26 1969.67 L1117.37 1972.41 L1119.49 1972.41 L1121.6 1969.67 L1123.72 1975.16 L1125.84 1975.16 L1127.95 1972.41 L1130.07 1975.16 L1132.18 1977.9 L1134.3 1977.9" fill="none" stroke="#0a0ae6" stroke-width="3.5" stroke-linejoin="round"/>
<path d="M732.26 1977.9 L734.38 1977.9 L736.49 1977.9 L738.61 1977.9 L740.72 1977.9 L742.84 1977.9 L744.96 1977.9 L747.07 1977.9 L749.19 1977.9 L751.3 1977.9 L753.42 1977.9 L755.54 1977.9 L757.65 1977.9 L759.77 1977.9 L761.88 1977.9 L764 1977.9 L766.12 1977.9 L768.23 1977.9 L770.35 1977.9 L772.46 1977.9 L774.58 1975.16 L776.7 1975.16 L778.81 1975.16 L780.93 1975.16 L783.04 1975.16 L785.16 1975.16 L787.28 1975.16 L789.39 1975.16 L791.51 1975.16 L793.62 1972.41 L795.74 1972.41 L797.86 1972.41 L799.97 1972.41 L802.09 1972.41 L804.2 1972.41 L806.32 1964.18 L808.44 1969.67 L810.55 1972.41 L812.67 1977.9 L814.78 1975.16 L816.9 1972.41 L819.02 1966.92 L821.13 1964.18 L823.25 1966.92 L825.36 1966.92 L827.48 1964.18 L829.6 1966.92 L831.71 1966.92 L833.83 1964.18 L835.94 1966.92 L838.06 1964.18 L840.18 1964.18 L842.29 1964.18 L844.41 1966.92 L846.52 1969.67 L848.64 1966.92 L850.76 1969.67 L852.87 1969.67 L854.99 1966.92 L857.1 1966.92 L859.22 1969.67 L861.34 1966.92 L863.45 1966.92 L865.57 1964.18 L867.68 1969.67 L869.8 1969.67 L871.92 1972.41 L874.03 1969.67 L876.15 1969.67 L878.26 1975.16 L880.38 1972.41 L882.5 1977.9 L884.61 1977.9 L886.73 1975.16 L888.84 1975.16 L890.96 1972.41 L893.08 1975.16 L895.19 1972.41 L897.31 1969.67 L899.42 1972.41 L901.54 1969.67 L903.66 1969.67 L905.77 1972.41 L907.89 1969.67 L910 1969.67 L912.12 1975.16 L914.24 1975.16 L916.35 1975.16 L918.47 1975.16 L920.58 1969.67 L922.7 1972.41 L924.82 1975.16 L926.93 1972.41 L929.05 1975.16 L931.16 1975.16 L933.28 1975.16 L935.4 1975.16 L937.51 1975.16 L939.63 1975.16 L941.74 1975.16 L943.86 1975.16 L945.98 1972.41 L948.09 1975.16 L950.21 1975.16 L952.32 1975.16 L954.44 1972.41 L956.56 1975.16 L958.67 1975.16 L960.79 1975.16 L962.9 1977.9 L965.02 1975.16 L967.14 1972.41 L969.25 1975.16 L971.37 1975.16 L973.48 1977.9 L975.6 1977.9 L977.72 1975.16 L979.83 1977.9 L981.95 1977.9 L984.06 1975.16 L986.18 1972.41 L988.3 1972.41 L990.41 1972.41 L992.53 1969.67 L994.64 1966.92 L996.76 1964.18 L998.88 1964.18 L1000.99 1958.69 L1003.11 1953.2 L1005.22 1950.46 L1007.34 1947.71 L1009.46 1947.71 L1011.57 1953.2 L1013.69 1950.46 L1015.8 1953.2 L1017.92 1955.95 L1020.04 1953.2 L1022.15 1953.2 L1024.27 1961.44 L1026.38 1961.44 L1028.5 1961.44 L1030.62 1958.69 L1032.73 1961.44 L1034.85 1961.44 L1036.96 1964.18 L1039.08 1972.41 L1041.2 1966.92 L1043.31 1966.92 L1045.43 1964.18 L1047.54 1964.18 L1049.66 1966.92 L1051.78 1969.67 L1053.89 1969.67 L1056.01 1969.67 L1058.12 1969.67 L1060.24 1972.41 L1062.36 1969.67 L1064.47 1969.67 L1066.59 1966.92 L1068.7 1966.92 L1070.82 1969.67 L1072.94 1969.67 L1075.05 1969.67 L1077.17 1972.41 L1079.28 1969.67 L1081.4 1972.41 L1083.52 1966.92 L1085.63 1966.92 L1087.75 1969.67 L1089.86 1964.18 L1091.98 1969.67 L1094.1 1969.67 L1096.21 1969.67 L1098.33 1969.67 L1100.44 1969.67 L1102.56 1966.92 L1104.68 1966.92 L1106.79 1972.41 L1108.91 1972.41 L1111.02 1969.67 L1113.14 1966.92 L1115.26 1969.67 L1117.37 1969.67 L1119.49 1966.92 L1121.6 1966.92 L1123.72 1969.67 L1125.84 1969.67 L1127.95 1969.67 L1130.07 1969.67 L1132.18 1969.67 L1134.3 1972.41" fill="none" stroke="#f5e23a" stroke-width="3.2" stroke-linejoin="round"/>
<path d="M732.26 1791.3 L734.38 1791.3 L736.49 1791.3 L738.61 1791.3 L740.72 1791.3 L742.84 1791.3 L744.96 1791.3 L747.07 1791.3 L749.19 1791.3 L751.3 1791.3 L753.42 1791.3 L755.54 1791.3 L757.65 1799.53 L759.77 1799.53 L761.88 1799.53 L764 1799.53 L766.12 1799.53 L768.23 1799.53 L770.35 1799.53 L772.46 1799.53 L774.58 1799.53 L776.7 1799.53 L778.81 1805.02 L780.93 1810.51 L783.04 1813.25 L785.16 1813.25 L787.28 1821.49 L789.39 1824.23 L791.51 1824.23 L793.62 1821.49 L795.74 1832.46 L797.86 1835.21 L799.97 1840.69 L802.09 1848.93 L804.2 1851.67 L806.32 1859.9 L808.44 1868.14 L810.55 1870.88 L812.67 1881.86 L814.78 1884.6 L816.9 1884.6 L819.02 1881.86 L821.13 1890.09 L823.25 1890.09 L825.36 1884.6 L827.48 1884.6 L829.6 1890.09 L831.71 1890.09 L833.83 1892.83 L835.94 1895.58 L838.06 1890.09 L840.18 1901.06 L842.29 1901.06 L844.41 1895.58 L846.52 1901.06 L848.64 1909.3 L850.76 1909.3 L852.87 1909.3 L854.99 1912.04 L857.1 1909.3 L859.22 1912.04 L861.34 1912.04 L863.45 1912.04 L865.57 1912.04 L867.68 1909.3 L869.8 1903.81 L871.92 1909.3 L874.03 1909.3 L876.15 1909.3 L878.26 1898.32 L880.38 1898.32 L882.5 1909.3 L884.61 1909.3 L886.73 1903.81 L888.84 1906.55 L890.96 1909.3 L893.08 1906.55 L895.19 1906.55 L897.31 1903.81 L899.42 1906.55 L901.54 1906.55 L903.66 1898.32 L905.77 1892.83 L907.89 1892.83 L910 1892.83 L912.12 1892.83 L914.24 1887.34 L916.35 1892.83 L918.47 1901.06 L920.58 1903.81 L922.7 1906.55 L924.82 1912.04 L926.93 1909.3 L929.05 1909.3 L931.16 1903.81 L933.28 1906.55 L935.4 1912.04 L937.51 1912.04 L939.63 1917.53 L941.74 1920.27 L943.86 1923.02 L945.98 1917.53 L948.09 1912.04 L950.21 1901.06 L952.32 1901.06 L954.44 1895.58 L956.56 1901.06 L958.67 1903.81 L960.79 1901.06 L962.9 1906.55 L965.02 1901.06 L967.14 1901.06 L969.25 1903.81 L971.37 1901.06 L973.48 1901.06 L975.6 1898.32 L977.72 1903.81 L979.83 1903.81 L981.95 1903.81 L984.06 1906.55 L986.18 1901.06 L988.3 1903.81 L990.41 1906.55 L992.53 1909.3 L994.64 1909.3 L996.76 1917.53 L998.88 1917.53 L1000.99 1923.02 L1003.11 1917.53 L1005.22 1906.55 L1007.34 1914.79 L1009.46 1906.55 L1011.57 1903.81 L1013.69 1906.55 L1015.8 1914.79 L1017.92 1912.04 L1020.04 1914.79 L1022.15 1917.53 L1024.27 1914.79 L1026.38 1914.79 L1028.5 1914.79 L1030.62 1917.53 L1032.73 1928.51 L1034.85 1920.27 L1036.96 1923.02 L1039.08 1928.51 L1041.2 1920.27 L1043.31 1917.53 L1045.43 1920.27 L1047.54 1920.27 L1049.66 1931.25 L1051.78 1925.76 L1053.89 1923.02 L1056.01 1923.02 L1058.12 1914.79 L1060.24 1912.04 L1062.36 1901.06 L1064.47 1903.81 L1066.59 1917.53 L1068.7 1920.27 L1070.82 1925.76 L1072.94 1928.51 L1075.05 1928.51 L1077.17 1933.99 L1079.28 1923.02 L1081.4 1920.27 L1083.52 1914.79 L1085.63 1928.51 L1087.75 1920.27 L1089.86 1917.53 L1091.98 1923.02 L1094.1 1928.51 L1096.21 1923.02 L1098.33 1923.02 L1100.44 1920.27 L1102.56 1923.02 L1104.68 1923.02 L1106.79 1931.25 L1108.91 1933.99 L1111.02 1931.25 L1113.14 1931.25 L1115.26 1931.25 L1117.37 1939.48 L1119.49 1939.48 L1121.6 1933.99 L1123.72 1933.99 L1125.84 1933.99 L1127.95 1923.02 L1130.07 1928.51 L1132.18 1923.02 L1134.3 1920.27" fill="none" stroke="#db36df" stroke-width="4.6" stroke-linejoin="round"/></svg>
</body></html>
